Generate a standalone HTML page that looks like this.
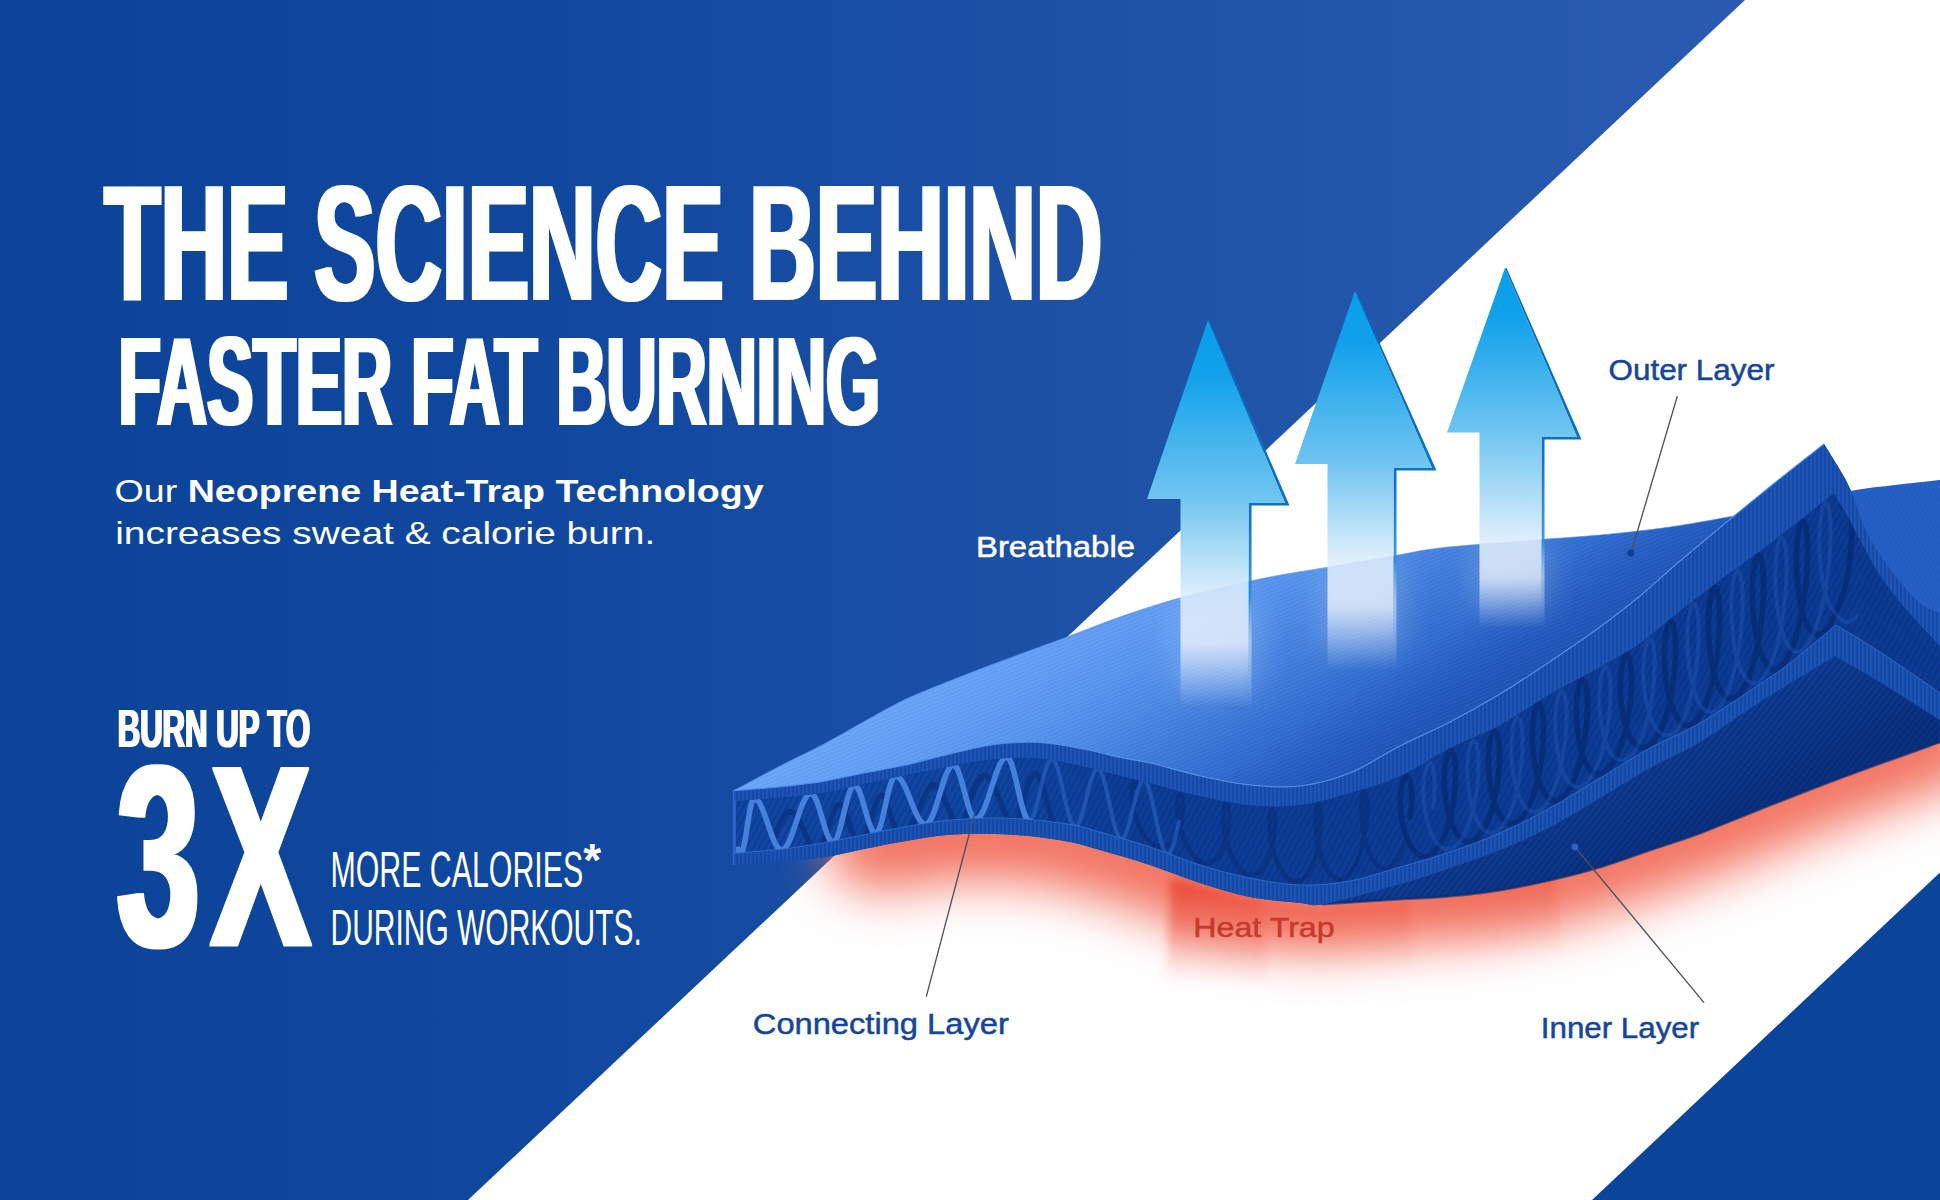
<!DOCTYPE html>
<html lang="en"><head><meta charset="utf-8"><title>The Science Behind Faster Fat Burning</title>
<style>
html,body{margin:0;padding:0;background:#0d469c;}
body{width:1940px;height:1200px;overflow:hidden;position:relative;font-family:"Liberation Sans",sans-serif;}
svg{position:absolute;left:0;top:0;display:block}
svg text{font-family:"Liberation Sans",sans-serif;}
</style></head><body>

<svg width="1940" height="1200" viewBox="0 0 1940 1200">
<defs>
<linearGradient id="bg" x1="0" y1="0" x2="1940" y2="0" gradientUnits="userSpaceOnUse">
<stop offset="0" stop-color="#0a4398"/><stop offset="0.28" stop-color="#10489f"/><stop offset="0.6" stop-color="#1f53a8"/><stop offset="0.9" stop-color="#295cb0"/></linearGradient>
<linearGradient id="top" x1="740" y1="790" x2="908" y2="1061" gradientUnits="userSpaceOnUse">
<stop offset="0" stop-color="#69a5f8"/><stop offset="0.19" stop-color="#5f9cf3"/><stop offset="0.30" stop-color="#5895ef"/><stop offset="0.39" stop-color="#4f8ee9"/><stop offset="0.46" stop-color="#4a87e5"/><stop offset="0.62" stop-color="#3b78d8"/><stop offset="0.75" stop-color="#2f6bce"/><stop offset="0.83" stop-color="#2860c4"/><stop offset="0.91" stop-color="#2058bb"/><stop offset="1" stop-color="#1d53b6"/></linearGradient>
<linearGradient id="topshade" x1="1250" y1="640" x2="1330" y2="800" gradientUnits="userSpaceOnUse">
<stop offset="0" stop-color="#1d55b8" stop-opacity="0"/><stop offset="1" stop-color="#1d55b8" stop-opacity="0.25"/></linearGradient>
<linearGradient id="arrow" x1="0" y1="0" x2="0" y2="1">
<stop offset="0" stop-color="#0a9ee9"/><stop offset="0.15" stop-color="#12a2ea"/><stop offset="0.42" stop-color="#6cc3f0"/><stop offset="0.58" stop-color="#b4dff7"/><stop offset="0.68" stop-color="#e6f4fd" stop-opacity="0.95"/><stop offset="0.8" stop-color="#ffffff" stop-opacity="0.55"/><stop offset="0.92" stop-color="#ffffff" stop-opacity="0.18"/><stop offset="1" stop-color="#ffffff" stop-opacity="0"/></linearGradient>
<linearGradient id="arrowe" x1="0" y1="0" x2="0" y2="1">
<stop offset="0" stop-color="#0765b8"/><stop offset="0.5" stop-color="#0b74c9"/><stop offset="0.7" stop-color="#2b8fdd" stop-opacity="0.9"/><stop offset="0.85" stop-color="#6db4f0" stop-opacity="0.4"/><stop offset="1" stop-color="#ffffff" stop-opacity="0"/></linearGradient>
<linearGradient id="beam" x1="0" y1="0" x2="0" y2="1">
<stop offset="0" stop-color="#e9432e" stop-opacity="0.95"/><stop offset="0.45" stop-color="#ee6a58" stop-opacity="0.7"/><stop offset="1" stop-color="#f7b0a6" stop-opacity="0"/></linearGradient>
<linearGradient id="cdark" x1="980" y1="0" x2="1700" y2="0" gradientUnits="userSpaceOnUse"><stop offset="0" stop-color="#0b3a93" stop-opacity="0"/><stop offset="0.22" stop-color="#0b3a93" stop-opacity="0.7"/><stop offset="1" stop-color="#0b3a93" stop-opacity="0.9"/></linearGradient>
<linearGradient id="under" x1="1500" y1="780" x2="1560" y2="900" gradientUnits="userSpaceOnUse">
<stop offset="0" stop-color="#1044a0"/><stop offset="1" stop-color="#0a3282"/></linearGradient>
<pattern id="hv" width="4" height="4" patternUnits="userSpaceOnUse"><rect width="2" height="4" fill="#06266b" opacity="0.22"/></pattern>
<pattern id="hd" width="5.5" height="5.5" patternUnits="userSpaceOnUse" patternTransform="rotate(28)"><rect width="2.6" height="5.5" fill="#051f5e" opacity="0.20"/></pattern>
<pattern id="hd2" width="5" height="5" patternUnits="userSpaceOnUse" patternTransform="rotate(38)"><rect width="2.4" height="5" fill="#04205f" opacity="0.34"/></pattern>
<pattern id="ht2" width="4.2" height="4.2" patternUnits="userSpaceOnUse" patternTransform="rotate(-62)"><rect width="4.2" height="1.6" fill="#0a3a9a" opacity="0.13"/></pattern>
<pattern id="ht" width="3.6" height="3.6" patternUnits="userSpaceOnUse" patternTransform="rotate(-22)"><rect width="3.6" height="1.3" fill="#ffffff" opacity="0.045"/><rect y="1.8" width="3.6" height="1.2" fill="#0a3a9a" opacity="0.05"/></pattern>
<filter id="blur" x="-10%" y="-60%" width="120%" height="220%"><feGaussianBlur stdDeviation="26"/></filter>
<filter id="blur2g" x="-50%" y="-50%" width="200%" height="200%"><feGaussianBlur stdDeviation="14"/></filter>
<filter id="blur2" x="-20%" y="-20%" width="140%" height="140%"><feGaussianBlur stdDeviation="5"/></filter>
<filter id="fat1" x="-2%" y="-5%" width="104%" height="110%"><feMorphology operator="dilate" radius="3 0"/></filter>
<filter id="fat2" x="-2%" y="-5%" width="104%" height="110%"><feMorphology operator="dilate" radius="7 1.5"/></filter>
<filter id="fat3" x="-2%" y="-5%" width="104%" height="110%"><feMorphology operator="dilate" radius="1.6 0.3"/></filter>
</defs>
<rect width="1940" height="1200" fill="url(#bg)"/>
<path d="M1745 0 L1940 0 L1940 1200 L468 1200 Z" fill="#fff"/>
<path d="M1592 1200 L1940 872.5 L1940 1200 Z" fill="#0b459b"/>
<g fill="none" stroke-linecap="round" stroke-linejoin="round">
<path d="M872.0 846.0 C877.7 845.5 893.5 844.5 906.0 843.0 C918.5 841.5 933.3 838.2 947.0 837.0 C960.7 835.8 974.3 835.6 988.0 835.8 C1001.7 836.0 1015.3 836.6 1029.0 838.0 C1042.7 839.4 1058.2 841.7 1070.0 844.0 C1081.8 846.3 1086.7 848.2 1100.0 852.0 C1113.3 855.8 1133.3 861.5 1150.0 867.0 C1166.7 872.5 1183.3 879.7 1200.0 885.0 C1216.7 890.3 1233.3 895.7 1250.0 899.0 C1266.7 902.3 1287.5 903.8 1300.0 905.0 C1312.5 906.2 1308.3 907.0 1325.0 906.0 C1341.7 905.0 1379.2 900.7 1400.0 899.0 C1420.8 897.3 1433.3 897.5 1450.0 896.0 C1466.7 894.5 1483.3 892.7 1500.0 890.0 C1516.7 887.3 1533.3 883.8 1550.0 880.0 C1566.7 876.2 1583.3 872.0 1600.0 867.0 C1616.7 862.0 1633.3 855.7 1650.0 850.0 C1666.7 844.3 1681.7 839.8 1700.0 833.0 C1718.3 826.2 1736.7 818.2 1760.0 809.0 C1783.3 799.8 1810.0 789.2 1840.0 778.0 C1870.0 766.8 1923.3 748.0 1940.0 742.0" stroke="#f26f5d" stroke-width="88" filter="url(#blur)"/>
</g>
<g filter="url(#blur2)">
<path d="M1171 878 L1263 900 L1268 985 L1166 985 Z" fill="url(#beam)"/>
<path d="M1263 900 L1313 907 L1410 900 L1414 968 L1267 972 Z" fill="url(#beam)" opacity="0.42"/>
<path d="M1410 900 L1556 876 L1560 950 L1414 962 Z" fill="url(#beam)" opacity="0.34"/>
</g>
<path d="M733.4 790.7 C741.5 790.0 767.1 788.2 782.0 786.6 C796.9 785.0 809.3 783.7 823.0 781.4 C836.7 779.1 850.2 775.7 864.0 773.0 C877.8 770.3 892.2 768.1 906.0 765.0 C919.8 761.9 933.3 757.9 947.0 754.6 C960.7 751.3 976.0 747.5 988.0 745.4 C1000.0 743.3 1008.7 742.6 1019.0 742.3 C1029.3 741.9 1038.0 741.9 1050.0 743.3 C1062.0 744.7 1079.3 748.1 1091.0 750.5 C1102.7 752.9 1110.2 755.4 1120.0 757.5 C1129.8 759.6 1136.7 759.9 1150.0 763.0 C1163.3 766.1 1183.3 772.3 1200.0 776.0 C1216.7 779.7 1233.3 783.3 1250.0 785.0 C1266.7 786.7 1283.3 788.0 1300.0 786.0 C1316.7 784.0 1333.3 779.7 1350.0 773.0 C1366.7 766.3 1383.3 754.5 1400.0 746.0 C1416.7 737.5 1433.3 730.7 1450.0 722.0 C1466.7 713.3 1484.2 703.5 1500.0 694.0 C1515.8 684.5 1528.3 676.2 1545.0 665.0 C1561.7 653.8 1584.2 638.5 1600.0 627.0 C1615.8 615.5 1626.7 607.0 1640.0 596.0 C1653.3 585.0 1664.3 574.3 1680.0 561.0 C1695.7 547.7 1717.8 529.3 1734.0 516.0 C1750.2 502.7 1762.0 493.0 1777.0 481.0 C1792.0 469.0 1816.2 450.2 1824.0 444.0 C1826.7 448.3 1835.5 462.2 1840.0 470.0 C1844.5 477.8 1846.5 480.5 1851.0 491.0 C1855.5 501.5 1860.0 519.3 1867.0 533.0 C1874.0 546.7 1884.2 561.3 1893.0 573.0 C1901.8 584.7 1912.2 596.3 1920.0 603.0 C1927.8 609.7 1936.7 611.3 1940.0 613.0 L1940 742 C1923.3 748.0 1870.0 766.8 1840.0 778.0 C1810.0 789.2 1783.3 799.8 1760.0 809.0 C1736.7 818.2 1718.3 826.2 1700.0 833.0 C1681.7 839.8 1666.7 844.3 1650.0 850.0 C1633.3 855.7 1616.7 862.0 1600.0 867.0 C1583.3 872.0 1566.7 876.2 1550.0 880.0 C1533.3 883.8 1516.7 887.3 1500.0 890.0 C1483.3 892.7 1466.7 894.5 1450.0 896.0 C1433.3 897.5 1421.3 897.7 1400.0 899.0 C1378.7 900.3 1335.0 903.2 1322.0 904.0 C1320.8 903.8 1312.5 904.2 1300.0 903.0 C1287.5 901.8 1266.7 900.3 1250.0 897.0 C1233.3 893.7 1216.7 888.3 1200.0 883.0 C1183.3 877.7 1166.7 870.5 1150.0 865.0 C1133.3 859.5 1113.3 853.8 1100.0 850.0 C1086.7 846.2 1081.8 844.3 1070.0 842.0 C1058.2 839.7 1042.7 837.4 1029.0 836.0 C1015.3 834.6 1001.7 834.0 988.0 833.8 C974.3 833.6 960.7 833.8 947.0 835.0 C933.3 836.2 919.8 838.7 906.0 841.0 C892.2 843.3 877.8 846.2 864.0 849.0 C850.2 851.8 836.7 855.4 823.0 857.5 C809.3 859.6 796.9 860.4 782.0 861.6 C767.1 862.8 741.5 864.2 733.4 864.7 Z" fill="#1a50b0"/>
<path d="M1734.0 517.0 C1745.0 514.5 1779.7 506.5 1800.0 502.0 C1820.3 497.5 1832.7 493.7 1856.0 490.0 C1879.3 486.3 1926.0 481.7 1940.0 480.0 L1940 640 L1800 640 L1792 484 Z" fill="#2760c4"/><path d="M1734.0 517.0 C1745.0 514.5 1779.7 506.5 1800.0 502.0 C1820.3 497.5 1832.7 493.7 1856.0 490.0 C1879.3 486.3 1926.0 481.7 1940.0 480.0 L1940 640 L1800 640 L1792 484 Z" fill="url(#ht2)"/>
<path d="M733.4 790.7 C741.2 786.6 765.1 773.7 780.0 766.0 C794.9 758.3 808.8 752.0 823.0 744.5 C837.2 737.0 851.2 728.6 865.0 721.0 C878.8 713.4 892.3 705.5 906.0 699.0 C919.7 692.5 933.3 687.5 947.0 682.0 C960.7 676.5 974.2 671.2 988.0 666.0 C1001.8 660.8 1016.8 655.3 1030.0 650.5 C1043.2 645.7 1052.0 642.6 1067.0 637.0 C1082.0 631.4 1101.2 623.5 1120.0 617.0 C1138.8 610.5 1156.7 604.3 1180.0 598.0 C1203.3 591.7 1235.2 584.2 1260.0 579.0 C1284.8 573.8 1306.8 570.8 1329.0 567.0 C1351.2 563.2 1374.5 559.2 1393.0 556.0 C1411.5 552.8 1418.8 550.5 1440.0 548.0 C1461.2 545.5 1493.3 543.2 1520.0 541.0 C1546.7 538.8 1575.0 537.3 1600.0 535.0 C1625.0 532.7 1647.7 530.2 1670.0 527.0 C1692.3 523.8 1723.3 517.8 1734.0 516.0 C1725.0 523.5 1695.7 547.7 1680.0 561.0 C1664.3 574.3 1653.3 585.0 1640.0 596.0 C1626.7 607.0 1615.8 615.5 1600.0 627.0 C1584.2 638.5 1561.7 653.8 1545.0 665.0 C1528.3 676.2 1515.8 684.5 1500.0 694.0 C1484.2 703.5 1466.7 713.3 1450.0 722.0 C1433.3 730.7 1416.7 737.5 1400.0 746.0 C1383.3 754.5 1366.7 766.3 1350.0 773.0 C1333.3 779.7 1316.7 784.0 1300.0 786.0 C1283.3 788.0 1266.7 786.7 1250.0 785.0 C1233.3 783.3 1216.7 779.7 1200.0 776.0 C1183.3 772.3 1163.3 766.1 1150.0 763.0 C1136.7 759.9 1129.8 759.6 1120.0 757.5 C1110.2 755.4 1102.7 752.9 1091.0 750.5 C1079.3 748.1 1062.0 744.7 1050.0 743.3 C1038.0 741.9 1029.3 741.9 1019.0 742.3 C1008.7 742.6 1000.0 743.3 988.0 745.4 C976.0 747.5 960.7 751.3 947.0 754.6 C933.3 757.9 919.8 761.9 906.0 765.0 C892.2 768.1 877.8 770.3 864.0 773.0 C850.2 775.7 836.7 779.1 823.0 781.4 C809.3 783.7 796.9 785.0 782.0 786.6 C767.1 788.2 741.5 790.0 733.4 790.7 Z" fill="url(#top)" stroke="#4f8de8" stroke-width="0.6"/><path d="M733.4 790.7 C741.2 786.6 765.1 773.7 780.0 766.0 C794.9 758.3 808.8 752.0 823.0 744.5 C837.2 737.0 851.2 728.6 865.0 721.0 C878.8 713.4 892.3 705.5 906.0 699.0 C919.7 692.5 933.3 687.5 947.0 682.0 C960.7 676.5 974.2 671.2 988.0 666.0 C1001.8 660.8 1016.8 655.3 1030.0 650.5 C1043.2 645.7 1052.0 642.6 1067.0 637.0 C1082.0 631.4 1101.2 623.5 1120.0 617.0 C1138.8 610.5 1156.7 604.3 1180.0 598.0 C1203.3 591.7 1235.2 584.2 1260.0 579.0 C1284.8 573.8 1306.8 570.8 1329.0 567.0 C1351.2 563.2 1374.5 559.2 1393.0 556.0 C1411.5 552.8 1418.8 550.5 1440.0 548.0 C1461.2 545.5 1493.3 543.2 1520.0 541.0 C1546.7 538.8 1575.0 537.3 1600.0 535.0 C1625.0 532.7 1647.7 530.2 1670.0 527.0 C1692.3 523.8 1723.3 517.8 1734.0 516.0 C1725.0 523.5 1695.7 547.7 1680.0 561.0 C1664.3 574.3 1653.3 585.0 1640.0 596.0 C1626.7 607.0 1615.8 615.5 1600.0 627.0 C1584.2 638.5 1561.7 653.8 1545.0 665.0 C1528.3 676.2 1515.8 684.5 1500.0 694.0 C1484.2 703.5 1466.7 713.3 1450.0 722.0 C1433.3 730.7 1416.7 737.5 1400.0 746.0 C1383.3 754.5 1366.7 766.3 1350.0 773.0 C1333.3 779.7 1316.7 784.0 1300.0 786.0 C1283.3 788.0 1266.7 786.7 1250.0 785.0 C1233.3 783.3 1216.7 779.7 1200.0 776.0 C1183.3 772.3 1163.3 766.1 1150.0 763.0 C1136.7 759.9 1129.8 759.6 1120.0 757.5 C1110.2 755.4 1102.7 752.9 1091.0 750.5 C1079.3 748.1 1062.0 744.7 1050.0 743.3 C1038.0 741.9 1029.3 741.9 1019.0 742.3 C1008.7 742.6 1000.0 743.3 988.0 745.4 C976.0 747.5 960.7 751.3 947.0 754.6 C933.3 757.9 919.8 761.9 906.0 765.0 C892.2 768.1 877.8 770.3 864.0 773.0 C850.2 775.7 836.7 779.1 823.0 781.4 C809.3 783.7 796.9 785.0 782.0 786.6 C767.1 788.2 741.5 790.0 733.4 790.7 Z" fill="url(#ht)"/>
<clipPath id="cc"><path d="M733.4 801.0 C741.5 800.4 767.1 798.6 782.0 797.2 C796.9 795.8 809.3 795.0 823.0 792.8 C836.7 790.6 850.2 787.0 864.0 784.0 C877.8 781.0 892.2 777.8 906.0 775.0 C919.8 772.2 933.3 769.5 947.0 767.0 C960.7 764.5 976.0 761.3 988.0 759.8 C1000.0 758.2 1008.7 757.8 1019.0 757.7 C1029.3 757.7 1038.0 757.8 1050.0 759.5 C1062.0 761.2 1079.3 765.3 1091.0 768.0 C1102.7 770.7 1110.2 773.0 1120.0 775.5 C1129.8 778.0 1136.7 779.6 1150.0 783.0 C1163.3 786.4 1183.3 792.3 1200.0 796.0 C1216.7 799.7 1233.3 803.5 1250.0 805.0 C1266.7 806.5 1283.3 807.0 1300.0 805.0 C1316.7 803.0 1333.3 797.8 1350.0 793.0 C1366.7 788.2 1383.3 783.5 1400.0 776.0 C1416.7 768.5 1433.3 756.5 1450.0 748.0 C1466.7 739.5 1483.3 734.0 1500.0 725.0 C1516.7 716.0 1533.3 703.7 1550.0 694.0 C1566.7 684.3 1585.0 675.5 1600.0 667.0 C1615.0 658.5 1626.7 652.3 1640.0 643.0 C1653.3 633.7 1666.7 621.5 1680.0 611.0 C1693.3 600.5 1706.7 590.0 1720.0 580.0 C1733.3 570.0 1746.7 561.0 1760.0 551.0 C1773.3 541.0 1787.7 529.7 1800.0 520.0 C1812.3 510.3 1828.3 497.5 1834.0 493.0 C1836.2 496.7 1842.8 507.5 1847.0 515.0 C1851.2 522.5 1853.5 528.0 1859.0 538.0 C1864.5 548.0 1872.3 563.3 1880.0 575.0 C1887.7 586.7 1895.0 596.2 1905.0 608.0 C1915.0 619.8 1934.2 639.7 1940.0 646.0 L1940 693 C1930.0 686.2 1897.3 663.3 1880.0 652.0 C1862.7 640.7 1843.3 629.5 1836.0 625.0 C1828.3 631.3 1802.7 653.2 1790.0 663.0 C1777.3 672.8 1775.0 674.0 1760.0 684.0 C1745.0 694.0 1718.3 712.3 1700.0 723.0 C1681.7 733.7 1666.7 738.8 1650.0 748.0 C1633.3 757.2 1616.7 768.0 1600.0 778.0 C1583.3 788.0 1566.7 798.8 1550.0 808.0 C1533.3 817.2 1516.7 825.7 1500.0 833.0 C1483.3 840.3 1466.7 846.3 1450.0 852.0 C1433.3 857.7 1416.7 862.2 1400.0 867.0 C1383.3 871.8 1366.7 878.0 1350.0 881.0 C1333.3 884.0 1316.7 885.5 1300.0 885.0 C1283.3 884.5 1266.7 881.3 1250.0 878.0 C1233.3 874.7 1216.7 870.2 1200.0 865.0 C1183.3 859.8 1166.7 852.5 1150.0 847.0 C1133.3 841.5 1113.3 835.8 1100.0 832.0 C1086.7 828.2 1081.8 826.6 1070.0 824.5 C1058.2 822.4 1042.7 820.5 1029.0 819.4 C1015.3 818.3 1001.7 817.8 988.0 818.0 C974.3 818.2 960.7 819.0 947.0 820.4 C933.3 821.8 919.8 824.2 906.0 826.6 C892.2 829.0 877.8 832.1 864.0 834.8 C850.2 837.5 836.7 840.6 823.0 843.0 C809.3 845.4 796.9 847.3 782.0 849.0 C767.1 850.7 741.5 852.7 733.4 853.4 Z"/></clipPath>
<path d="M733.4 801.0 C741.5 800.4 767.1 798.6 782.0 797.2 C796.9 795.8 809.3 795.0 823.0 792.8 C836.7 790.6 850.2 787.0 864.0 784.0 C877.8 781.0 892.2 777.8 906.0 775.0 C919.8 772.2 933.3 769.5 947.0 767.0 C960.7 764.5 976.0 761.3 988.0 759.8 C1000.0 758.2 1008.7 757.8 1019.0 757.7 C1029.3 757.7 1038.0 757.8 1050.0 759.5 C1062.0 761.2 1079.3 765.3 1091.0 768.0 C1102.7 770.7 1110.2 773.0 1120.0 775.5 C1129.8 778.0 1136.7 779.6 1150.0 783.0 C1163.3 786.4 1183.3 792.3 1200.0 796.0 C1216.7 799.7 1233.3 803.5 1250.0 805.0 C1266.7 806.5 1283.3 807.0 1300.0 805.0 C1316.7 803.0 1333.3 797.8 1350.0 793.0 C1366.7 788.2 1383.3 783.5 1400.0 776.0 C1416.7 768.5 1433.3 756.5 1450.0 748.0 C1466.7 739.5 1483.3 734.0 1500.0 725.0 C1516.7 716.0 1533.3 703.7 1550.0 694.0 C1566.7 684.3 1585.0 675.5 1600.0 667.0 C1615.0 658.5 1626.7 652.3 1640.0 643.0 C1653.3 633.7 1666.7 621.5 1680.0 611.0 C1693.3 600.5 1706.7 590.0 1720.0 580.0 C1733.3 570.0 1746.7 561.0 1760.0 551.0 C1773.3 541.0 1787.7 529.7 1800.0 520.0 C1812.3 510.3 1828.3 497.5 1834.0 493.0 C1836.2 496.7 1842.8 507.5 1847.0 515.0 C1851.2 522.5 1853.5 528.0 1859.0 538.0 C1864.5 548.0 1872.3 563.3 1880.0 575.0 C1887.7 586.7 1895.0 596.2 1905.0 608.0 C1915.0 619.8 1934.2 639.7 1940.0 646.0 L1940 693 C1930.0 686.2 1897.3 663.3 1880.0 652.0 C1862.7 640.7 1843.3 629.5 1836.0 625.0 C1828.3 631.3 1802.7 653.2 1790.0 663.0 C1777.3 672.8 1775.0 674.0 1760.0 684.0 C1745.0 694.0 1718.3 712.3 1700.0 723.0 C1681.7 733.7 1666.7 738.8 1650.0 748.0 C1633.3 757.2 1616.7 768.0 1600.0 778.0 C1583.3 788.0 1566.7 798.8 1550.0 808.0 C1533.3 817.2 1516.7 825.7 1500.0 833.0 C1483.3 840.3 1466.7 846.3 1450.0 852.0 C1433.3 857.7 1416.7 862.2 1400.0 867.0 C1383.3 871.8 1366.7 878.0 1350.0 881.0 C1333.3 884.0 1316.7 885.5 1300.0 885.0 C1283.3 884.5 1266.7 881.3 1250.0 878.0 C1233.3 874.7 1216.7 870.2 1200.0 865.0 C1183.3 859.8 1166.7 852.5 1150.0 847.0 C1133.3 841.5 1113.3 835.8 1100.0 832.0 C1086.7 828.2 1081.8 826.6 1070.0 824.5 C1058.2 822.4 1042.7 820.5 1029.0 819.4 C1015.3 818.3 1001.7 817.8 988.0 818.0 C974.3 818.2 960.7 819.0 947.0 820.4 C933.3 821.8 919.8 824.2 906.0 826.6 C892.2 829.0 877.8 832.1 864.0 834.8 C850.2 837.5 836.7 840.6 823.0 843.0 C809.3 845.4 796.9 847.3 782.0 849.0 C767.1 850.7 741.5 852.7 733.4 853.4 Z" fill="#1046a4" stroke="#1046a4" stroke-width="1"/><path d="M733.4 801.0 C741.5 800.4 767.1 798.6 782.0 797.2 C796.9 795.8 809.3 795.0 823.0 792.8 C836.7 790.6 850.2 787.0 864.0 784.0 C877.8 781.0 892.2 777.8 906.0 775.0 C919.8 772.2 933.3 769.5 947.0 767.0 C960.7 764.5 976.0 761.3 988.0 759.8 C1000.0 758.2 1008.7 757.8 1019.0 757.7 C1029.3 757.7 1038.0 757.8 1050.0 759.5 C1062.0 761.2 1079.3 765.3 1091.0 768.0 C1102.7 770.7 1110.2 773.0 1120.0 775.5 C1129.8 778.0 1136.7 779.6 1150.0 783.0 C1163.3 786.4 1183.3 792.3 1200.0 796.0 C1216.7 799.7 1233.3 803.5 1250.0 805.0 C1266.7 806.5 1283.3 807.0 1300.0 805.0 C1316.7 803.0 1333.3 797.8 1350.0 793.0 C1366.7 788.2 1383.3 783.5 1400.0 776.0 C1416.7 768.5 1433.3 756.5 1450.0 748.0 C1466.7 739.5 1483.3 734.0 1500.0 725.0 C1516.7 716.0 1533.3 703.7 1550.0 694.0 C1566.7 684.3 1585.0 675.5 1600.0 667.0 C1615.0 658.5 1626.7 652.3 1640.0 643.0 C1653.3 633.7 1666.7 621.5 1680.0 611.0 C1693.3 600.5 1706.7 590.0 1720.0 580.0 C1733.3 570.0 1746.7 561.0 1760.0 551.0 C1773.3 541.0 1787.7 529.7 1800.0 520.0 C1812.3 510.3 1828.3 497.5 1834.0 493.0 C1836.2 496.7 1842.8 507.5 1847.0 515.0 C1851.2 522.5 1853.5 528.0 1859.0 538.0 C1864.5 548.0 1872.3 563.3 1880.0 575.0 C1887.7 586.7 1895.0 596.2 1905.0 608.0 C1915.0 619.8 1934.2 639.7 1940.0 646.0 L1940 693 C1930.0 686.2 1897.3 663.3 1880.0 652.0 C1862.7 640.7 1843.3 629.5 1836.0 625.0 C1828.3 631.3 1802.7 653.2 1790.0 663.0 C1777.3 672.8 1775.0 674.0 1760.0 684.0 C1745.0 694.0 1718.3 712.3 1700.0 723.0 C1681.7 733.7 1666.7 738.8 1650.0 748.0 C1633.3 757.2 1616.7 768.0 1600.0 778.0 C1583.3 788.0 1566.7 798.8 1550.0 808.0 C1533.3 817.2 1516.7 825.7 1500.0 833.0 C1483.3 840.3 1466.7 846.3 1450.0 852.0 C1433.3 857.7 1416.7 862.2 1400.0 867.0 C1383.3 871.8 1366.7 878.0 1350.0 881.0 C1333.3 884.0 1316.7 885.5 1300.0 885.0 C1283.3 884.5 1266.7 881.3 1250.0 878.0 C1233.3 874.7 1216.7 870.2 1200.0 865.0 C1183.3 859.8 1166.7 852.5 1150.0 847.0 C1133.3 841.5 1113.3 835.8 1100.0 832.0 C1086.7 828.2 1081.8 826.6 1070.0 824.5 C1058.2 822.4 1042.7 820.5 1029.0 819.4 C1015.3 818.3 1001.7 817.8 988.0 818.0 C974.3 818.2 960.7 819.0 947.0 820.4 C933.3 821.8 919.8 824.2 906.0 826.6 C892.2 829.0 877.8 832.1 864.0 834.8 C850.2 837.5 836.7 840.6 823.0 843.0 C809.3 845.4 796.9 847.3 782.0 849.0 C767.1 850.7 741.5 852.7 733.4 853.4 Z" fill="url(#cdark)"/><path d="M733.4 801.0 C741.5 800.4 767.1 798.6 782.0 797.2 C796.9 795.8 809.3 795.0 823.0 792.8 C836.7 790.6 850.2 787.0 864.0 784.0 C877.8 781.0 892.2 777.8 906.0 775.0 C919.8 772.2 933.3 769.5 947.0 767.0 C960.7 764.5 976.0 761.3 988.0 759.8 C1000.0 758.2 1008.7 757.8 1019.0 757.7 C1029.3 757.7 1038.0 757.8 1050.0 759.5 C1062.0 761.2 1079.3 765.3 1091.0 768.0 C1102.7 770.7 1110.2 773.0 1120.0 775.5 C1129.8 778.0 1136.7 779.6 1150.0 783.0 C1163.3 786.4 1183.3 792.3 1200.0 796.0 C1216.7 799.7 1233.3 803.5 1250.0 805.0 C1266.7 806.5 1283.3 807.0 1300.0 805.0 C1316.7 803.0 1333.3 797.8 1350.0 793.0 C1366.7 788.2 1383.3 783.5 1400.0 776.0 C1416.7 768.5 1433.3 756.5 1450.0 748.0 C1466.7 739.5 1483.3 734.0 1500.0 725.0 C1516.7 716.0 1533.3 703.7 1550.0 694.0 C1566.7 684.3 1585.0 675.5 1600.0 667.0 C1615.0 658.5 1626.7 652.3 1640.0 643.0 C1653.3 633.7 1666.7 621.5 1680.0 611.0 C1693.3 600.5 1706.7 590.0 1720.0 580.0 C1733.3 570.0 1746.7 561.0 1760.0 551.0 C1773.3 541.0 1787.7 529.7 1800.0 520.0 C1812.3 510.3 1828.3 497.5 1834.0 493.0 C1836.2 496.7 1842.8 507.5 1847.0 515.0 C1851.2 522.5 1853.5 528.0 1859.0 538.0 C1864.5 548.0 1872.3 563.3 1880.0 575.0 C1887.7 586.7 1895.0 596.2 1905.0 608.0 C1915.0 619.8 1934.2 639.7 1940.0 646.0 L1940 693 C1930.0 686.2 1897.3 663.3 1880.0 652.0 C1862.7 640.7 1843.3 629.5 1836.0 625.0 C1828.3 631.3 1802.7 653.2 1790.0 663.0 C1777.3 672.8 1775.0 674.0 1760.0 684.0 C1745.0 694.0 1718.3 712.3 1700.0 723.0 C1681.7 733.7 1666.7 738.8 1650.0 748.0 C1633.3 757.2 1616.7 768.0 1600.0 778.0 C1583.3 788.0 1566.7 798.8 1550.0 808.0 C1533.3 817.2 1516.7 825.7 1500.0 833.0 C1483.3 840.3 1466.7 846.3 1450.0 852.0 C1433.3 857.7 1416.7 862.2 1400.0 867.0 C1383.3 871.8 1366.7 878.0 1350.0 881.0 C1333.3 884.0 1316.7 885.5 1300.0 885.0 C1283.3 884.5 1266.7 881.3 1250.0 878.0 C1233.3 874.7 1216.7 870.2 1200.0 865.0 C1183.3 859.8 1166.7 852.5 1150.0 847.0 C1133.3 841.5 1113.3 835.8 1100.0 832.0 C1086.7 828.2 1081.8 826.6 1070.0 824.5 C1058.2 822.4 1042.7 820.5 1029.0 819.4 C1015.3 818.3 1001.7 817.8 988.0 818.0 C974.3 818.2 960.7 819.0 947.0 820.4 C933.3 821.8 919.8 824.2 906.0 826.6 C892.2 829.0 877.8 832.1 864.0 834.8 C850.2 837.5 836.7 840.6 823.0 843.0 C809.3 845.4 796.9 847.3 782.0 849.0 C767.1 850.7 741.5 852.7 733.4 853.4 Z" fill="url(#hd)"/>
<g clip-path="url(#cc)" fill="none" stroke-linecap="round" stroke-linejoin="round">
<path d="M775.0 836.0 L776.5 832.2 L778.0 828.4 L779.5 824.8 L781.0 821.5 L782.5 818.6 L784.0 816.1 L785.5 814.1 L787.0 812.7 L788.5 811.8 L790.0 811.5 L791.5 811.8 L793.0 812.6 L794.5 814.0 L796.0 815.9 L797.5 818.3 L799.0 821.0 L800.5 823.9 L802.0 827.1 L803.5 830.4 L805.0 833.8 L806.5 837.0 L808.0 840.1 L809.5 842.9 L811.0 845.5 L812.5 848.1 L814.0 850.0 L815.5 850.9 L817.0 851.0 L818.5 850.2 L820.0 848.5 L821.5 845.9 L823.0 842.7 L824.5 838.8 L826.0 834.5 L827.5 829.9 L829.0 825.3 L830.5 820.8 L832.0 816.5 L833.5 812.7 L835.0 809.2 L836.5 806.6 L838.0 805.1 L839.5 804.7 L841.0 805.3 L842.5 807.0 L844.0 809.6 L845.5 813.0 L847.0 817.0 L848.5 821.4 L850.0 825.9 L851.5 830.3 L853.0 834.4 L854.5 837.7 L856.0 840.2 L857.5 841.9 L859.0 842.6 L860.5 842.4 L862.0 841.2 L863.5 839.1 L865.0 836.2 L866.5 832.5 L868.0 828.2 L869.5 823.5 L871.0 818.6 L872.5 813.7 L874.0 809.1 L875.5 804.9 L877.0 800.9 L878.5 797.8 L880.0 795.9 L881.5 795.3 L883.0 795.9 L884.5 797.9 L886.0 801.0 L887.5 804.9 L889.0 809.6 L890.5 814.6 L892.0 819.6 L893.5 824.3 L895.0 828.4 L896.5 830.4 L898.0 832.0 L899.5 833.2 L901.0 833.9 L902.5 834.1 L904.0 833.9 L905.5 833.2 L907.0 831.9 L908.5 830.2 L910.0 828.1 L911.5 825.5 L913.0 822.6 L914.5 819.5 L916.0 816.1 L917.5 812.5 L919.0 808.9 L920.5 805.3 L922.0 801.8 L923.5 798.4 L925.0 795.3 L926.5 792.3 L928.0 789.6 L929.5 787.4 L931.0 785.8 L932.5 784.8 L934.0 784.5 L935.5 784.9 L937.0 786.0 L938.5 787.7 L940.0 789.9 L941.5 792.7 L943.0 795.8 L944.5 799.3 L946.0 802.9 L947.5 806.7 L949.0 810.4 L950.5 813.9 L952.0 817.2 L953.5 820.2 L955.0 823.1 L956.5 825.0 L958.0 826.1 L959.5 826.2 L961.0 825.3 L962.5 823.5 L964.0 820.7 L965.5 817.1 L967.0 812.9 L968.5 808.1 L970.0 803.1 L971.5 797.9 L973.0 792.9 L974.5 788.2 L976.0 784.2 L977.5 781.5 L979.0 779.2 L980.5 777.4 L982.0 776.2 L983.5 775.5 L985.0 775.3 L986.5 775.8 L988.0 776.9 L989.5 778.5 L991.0 780.6 L992.5 783.2 L994.0 786.2 L995.5 789.5 L997.0 793.1 L998.5 796.9 L1000.0 800.8 L1001.5 804.6 L1003.0 808.4 L1004.5 811.9 L1006.0 815.2 L1007.5 818.8 L1009.0 822.0 L1010.5 824.2 L1012.0 825.3 L1013.5 825.2 L1015.0 824.0 L1016.5 821.7 L1018.0 818.4 L1019.5 814.3 L1021.0 809.4 L1022.5 804.1 L1024.0 798.6 L1025.5 793.1 L1027.0 787.9 L1028.5 783.1 L1030.0 779.2 L1031.5 776.1 L1033.0 774.1 L1034.5 773.1 L1036.0 773.2 L1037.5 774.5 L1039.0 776.9 L1040.5 780.3 L1042.0 784.5 L1043.5 789.4 L1045.0 794.8 L1046.5 800.5 L1048.0 806.2 L1049.5 811.7 L1051.0 816.7 L1052.5 821.2 L1054.0 824.8 L1055.5 827.5 L1057.0 829.1 L1058.5 829.6 L1060.0 829.1" stroke="#0a3382" stroke-width="5.5" opacity="0.85"/>
<path d="M1410.0 817.6 L1410.8 811.0 L1411.4 804.7 L1411.6 798.7 L1411.6 793.2 L1411.3 788.4 L1410.8 784.2 L1410.1 780.9 L1409.2 778.4 L1408.2 776.7 L1407.1 776.0 L1406.0 776.1 L1404.9 777.1 L1403.8 779.0 L1402.8 781.6 L1401.9 784.9 L1401.2 788.9 L1400.7 793.4 L1400.4 798.4 L1400.4 803.7 L1400.6 809.3 L1401.2 815.0 L1402.0 820.7 L1403.2 826.4 L1404.6 831.8 L1406.4 837.0 L1408.4 841.7 L1410.7 845.9 L1413.2 849.5 L1415.9 852.4 L1418.8 854.6 L1421.8 855.9 L1424.9 856.4 L1428.0 855.9 L1431.1 854.5 L1434.2 852.2 L1437.2 848.8 L1440.1 844.6 L1442.8 839.6 L1445.3 833.8 L1447.6 827.4 L1449.6 820.5 L1451.4 813.2 L1452.8 805.8 L1454.0 798.3 L1454.8 790.9 L1455.4 783.8 L1455.6 777.1 L1455.6 770.9 L1455.3 765.4 L1454.8 760.7 L1454.1 756.8 L1453.2 753.8 L1452.2 751.9 L1451.1 750.9 L1450.0 751.0 L1448.9 752.1 L1447.8 754.1 L1446.8 757.1 L1445.9 760.9 L1445.2 765.4 L1444.7 770.6 L1444.4 776.2 L1444.4 782.3 L1444.6 788.7 L1445.2 795.2 L1446.0 801.7 L1447.2 808.2 L1448.6 814.4 L1450.4 820.2 L1452.4 825.6 L1454.7 830.4 L1457.2 834.4 L1459.9 837.7 L1462.8 840.1 L1465.8 841.5 L1468.9 841.9 L1472.0 841.2 L1475.1 839.6 L1478.2 836.9 L1481.2 833.2 L1484.1 828.6 L1486.8 823.2 L1489.3 817.1 L1491.6 810.3 L1493.6 803.1 L1495.4 795.5 L1496.8 787.8 L1498.0 780.0 L1498.8 772.3 L1499.4 764.9 L1499.6 758.0 L1499.6 751.6 L1499.3 745.9 L1498.8 741.1 L1498.1 737.1 L1497.2 734.1 L1496.2 732.0 L1495.1 731.0 L1494.0 731.1 L1492.9 732.2 L1491.8 734.2 L1490.8 737.2 L1489.9 741.1 L1489.2 745.8 L1488.7 751.1 L1488.4 757.0 L1488.4 763.4 L1488.6 770.0 L1489.2 776.8 L1490.0 783.6 L1491.2 790.3 L1492.6 796.8 L1494.4 802.8 L1496.4 808.2 L1498.7 813.0 L1501.2 817.0 L1503.9 820.1 L1506.8 822.3 L1509.8 823.5 L1512.9 823.6 L1516.0 822.6 L1519.1 820.6 L1522.2 817.4 L1525.2 813.3 L1528.1 808.2 L1530.8 802.2 L1533.3 795.5 L1535.6 788.2 L1537.6 780.4 L1539.4 772.2 L1540.8 763.9 L1542.0 755.6 L1542.8 747.4 L1543.4 739.6 L1543.6 732.3 L1543.6 725.5 L1543.3 719.6 L1542.8 714.5 L1542.1 710.3 L1541.2 707.2 L1540.2 705.1 L1539.1 704.2 L1538.0 704.3 L1536.9 705.6 L1535.8 707.9 L1534.8 711.2 L1533.9 715.4 L1533.2 720.4 L1532.7 726.1 L1532.4 732.4 L1532.4 739.1 L1532.6 746.1 L1533.2 753.2 L1534.0 760.2 L1535.2 767.2 L1536.6 773.8 L1538.4 780.0 L1540.4 785.5 L1542.7 790.4 L1545.2 794.5 L1547.9 797.6 L1550.8 799.7 L1553.8 800.7 L1556.9 800.6 L1560.0 799.3 L1563.1 796.9 L1566.2 793.5 L1569.2 789.0 L1572.1 783.6 L1574.8 777.4 L1577.3 770.5 L1579.6 763.0 L1581.6 755.2 L1583.4 747.0 L1584.8 738.8 L1586.0 730.6 L1586.8 722.6 L1587.4 714.9 L1587.6 707.7 L1587.6 701.1 L1587.3 695.2 L1586.8 690.1 L1586.1 686.0 L1585.2 682.8 L1584.2 680.7 L1583.1 679.7 L1582.0 679.7 L1580.9 680.9 L1579.8 683.0 L1578.8 686.2 L1577.9 690.3 L1577.2 695.3 L1576.7 700.9 L1576.4 707.2 L1576.4 713.9 L1576.6 720.9 L1577.2 728.0 L1578.0 735.1 L1579.2 742.1 L1580.6 748.6 L1582.4 754.7 L1584.4 760.2 L1586.7 764.9 L1589.2 768.7 L1591.9 771.6 L1594.8 773.4 L1597.8 774.2 L1600.9 773.9 L1604.0 772.6 L1607.1 770.1 L1610.2 766.7 L1613.2 762.2 L1616.1 756.9 L1618.8 750.8 L1621.3 744.0 L1623.6 736.7 L1625.6 728.9 L1627.4 720.9 L1628.8 712.7 L1630.0 704.6 L1630.8 696.7 L1631.4 689.1 L1631.6 682.0 L1631.6 675.5 L1631.3 669.7 L1630.8 664.8 L1630.1 660.8 L1629.2 657.8 L1628.2 655.9 L1627.1 655.0 L1626.0 655.1 L1624.9 656.3 L1623.8 658.6 L1622.8 661.8 L1621.9 665.8 L1621.2 670.7 L1620.7 676.2 L1620.4 682.4 L1620.4 688.9 L1620.6 695.7 L1621.2 702.6 L1622.0 709.5 L1623.2 716.2 L1624.6 722.6 L1626.4 728.5 L1628.4 733.7 L1630.7 738.3 L1633.2 742.0 L1635.9 744.8 L1638.8 746.7 L1641.8 747.5 L1644.9 747.3 L1648.0 746.1 L1651.1 743.8 L1654.2 740.6 L1657.2 736.3 L1660.1 731.1 L1662.8 725.0 L1665.3 718.1 L1667.6 710.4 L1669.6 702.3 L1671.4 693.7 L1672.8 684.9 L1674.0 676.0 L1674.8 667.3 L1675.4 659.0 L1675.6 651.1 L1675.6 643.9 L1675.3 637.6 L1674.8 632.2 L1674.1 627.8 L1673.2 624.6 L1672.2 622.6 L1671.1 621.8 L1670.0 622.1 L1668.9 623.6 L1667.8 626.2 L1666.8 629.9 L1665.9 634.4 L1665.2 639.7 L1664.7 645.7 L1664.4 652.3 L1664.4 659.2 L1664.6 666.5 L1665.2 673.8 L1666.0 681.2 L1667.2 688.4 L1668.6 695.3 L1670.4 701.9 L1672.4 707.8 L1674.7 713.1 L1677.2 717.6 L1679.9 721.2 L1682.8 723.8 L1685.8 725.2 L1688.9 725.5 L1692.0 724.4 L1695.1 722.1 L1698.2 718.6 L1701.2 713.8 L1704.1 707.8 L1706.8 700.9 L1709.3 693.1 L1711.6 684.6 L1713.6 675.5 L1715.4 666.0 L1716.8 656.3 L1718.0 646.7 L1718.8 637.3 L1719.4 628.2 L1719.6 619.7 L1719.6 611.9 L1719.3 605.0 L1718.8 599.1 L1718.1 594.3 L1717.2 590.7 L1716.2 588.4 L1715.1 587.3 L1714.0 587.5 L1712.9 589.0 L1711.8 591.7 L1710.8 595.6 L1709.9 600.5 L1709.2 606.3 L1708.7 612.9 L1708.4 620.1 L1708.4 627.8 L1708.6 635.9 L1709.2 644.1 L1710.0 652.3 L1711.2 660.3 L1712.6 667.9 L1714.4 675.0 L1716.4 681.4 L1718.7 687.0 L1721.2 691.6 L1723.9 695.2 L1726.8 697.5 L1729.8 698.7 L1732.9 698.5 L1736.0 697.1 L1739.1 694.4 L1742.2 690.4 L1745.2 685.2 L1748.1 679.0 L1750.8 671.7 L1753.3 663.6 L1755.6 654.8 L1757.6 645.5 L1759.4 635.8 L1760.8 625.9 L1762.0 616.1 L1762.8 606.4 L1763.4 597.2 L1763.6 588.5 L1763.6 580.5 L1763.3 573.5 L1762.8 567.4 L1762.1 562.5 L1761.2 558.8 L1760.2 556.4 L1759.1 555.3 L1758.0 555.5 L1756.9 557.0 L1755.8 559.7 L1754.8 563.6 L1753.9 568.6 L1753.2 574.5 L1752.7 581.2 L1752.4 588.7 L1752.4 596.6 L1752.6 604.9 L1753.2 613.3 L1754.0 621.7 L1755.2 629.9 L1756.6 637.8 L1758.4 645.0 L1760.4 651.6 L1762.7 657.3 L1765.2 662.0 L1767.9 665.6 L1770.8 668.1 L1773.8 669.3 L1776.9 669.1 L1780.0 667.5 L1783.1 664.6 L1786.2 660.3 L1789.2 654.8 L1792.1 648.1 L1794.8 640.4 L1797.3 631.9 L1799.6 622.7 L1801.6 613.0 L1803.4 602.9 L1804.8 592.8 L1806.0 582.7 L1806.8 572.8 L1807.4 563.4 L1807.6 554.6 L1807.6 546.6 L1807.3 539.4 L1806.8 533.4 L1806.1 528.4 L1805.2 524.7 L1804.2 522.3 L1803.1 521.2 L1802.0 521.4 L1800.9 523.0 L1799.8 525.8 L1798.8 529.8 L1797.9 534.9 L1797.2 541.0 L1796.7 547.9 L1796.4 555.5 L1796.4 563.6 L1796.6 572.0 L1797.2 580.6 L1798.0 589.1 L1799.2 597.4 L1800.6 605.2 L1802.4 612.4 L1804.4 618.8 L1806.7 624.3 L1809.2 628.7 L1811.9 632.0 L1814.8 634.0 L1817.8 634.7 L1820.9 634.0 L1824.0 632.0 L1827.1 628.8 L1830.2 624.2 L1833.2 618.5 L1836.1 612.0 L1838.8 606.6 L1841.3 600.3 L1843.6 593.1 L1845.6 585.2 L1847.4 576.7 L1848.8 568.0 L1850.0 559.0 L1850.8 550.0 L1851.4 541.3 L1851.6 532.8 L1851.6 524.9 L1851.3 517.7 L1850.8 511.4 L1850.1 506.0 L1849.2 501.7 L1848.2 498.6 L1847.1 496.6 L1846.0 496.0 L1844.9 496.6 L1843.8 498.6 L1842.8 501.7 L1841.9 506.0" stroke="#072a72" stroke-width="5.5" opacity="0.78"/>
<path d="M1136.5 787.1 L1136.0 785.1 L1135.5 783.6 L1134.9 782.6 L1134.3 782.1 L1133.7 782.1 L1133.0 782.6 L1132.5 783.7 L1132.0 785.3 L1131.7 787.3 L1131.4 789.9 L1131.4 792.8 L1131.5 796.1 L1131.8 799.7 L1132.3 803.5 L1133.1 807.6 L1134.0 811.7 L1135.2 815.9 L1136.6 820.1 L1138.2 824.2 L1140.0 828.1 L1142.0 831.8 L1144.2 835.2 L1146.5 838.3 L1149.0 841.0 L1151.5 843.2 L1154.1 845.0 L1156.7 846.3 L1159.3 847.1 L1162.0 847.3 L1164.5 847.0 L1167.0 846.1 L1169.3 844.7 L1171.6 842.8 L1173.6 840.5 L1175.5 837.7 L1177.2 834.5 L1178.7 831.0 L1179.9 827.4 L1181.0 823.5 L1181.8 819.6 L1182.4 815.8 L1182.8 812.0 L1183.0 808.4 L1183.0 805.1 L1182.8 802.2 L1182.5 799.6 L1182.0 797.5 L1181.5 795.8 L1180.9 794.7 L1180.3 794.2 L1179.7 794.2 L1179.0 794.8 L1178.5 795.9 L1178.0 797.6 L1177.7 799.8 L1177.4 802.5 L1177.4 805.6 L1177.5 809.1 L1177.8 813.0 L1178.3 817.1 L1179.1 821.4 L1180.0 825.9 L1181.2 830.4 L1182.6 834.9 L1184.2 839.3 L1186.0 843.6 L1188.0 847.6 L1190.2 851.3 L1192.5 854.6 L1195.0 857.5 L1197.5 859.8 L1200.1 861.6 L1202.7 862.8 L1205.3 863.4 L1208.0 863.4 L1210.5 862.8 L1213.0 861.6 L1215.3 859.8 L1217.6 857.5 L1219.6 854.7 L1221.5 851.5 L1223.2 847.9 L1224.7 844.0 L1225.9 840.0 L1227.0 835.8 L1227.8 831.5 L1228.4 827.4 L1228.8 823.3 L1229.0 819.5 L1229.0 816.0 L1228.8 812.8 L1228.5 810.1 L1228.0 807.9 L1227.5 806.2 L1226.9 805.1 L1226.3 804.6 L1225.7 804.6 L1225.0 805.3 L1224.5 806.6 L1224.0 808.4 L1223.7 810.8 L1223.4 813.7 L1223.4 817.1 L1223.5 820.8 L1223.8 824.9 L1224.3 829.2 L1225.1 833.8 L1226.0 838.4 L1227.2 843.1 L1228.6 847.7 L1230.2 852.2 L1232.0 856.5 L1234.0 860.5 L1236.2 864.1 L1238.5 867.3 L1241.0 870.0 L1243.5 872.2 L1246.1 873.8 L1248.7 874.7 L1251.3 875.1 L1254.0 874.7 L1256.5 873.8 L1259.0 872.2 L1261.3 870.1 L1263.6 867.3 L1265.6 864.1 L1267.5 860.4 L1269.2 856.3 L1270.7 852.0 L1271.9 847.4 L1273.0 842.7 L1273.8 838.0 L1274.4 833.5 L1274.8 829.0 L1275.0 824.9 L1275.0 821.1 L1274.8 817.7 L1274.5 814.9 L1274.0 812.6 L1273.5 810.8 L1272.9 809.7 L1272.3 809.3 L1271.7 809.5 L1271.0 810.3 L1270.5 811.8 L1270.0 813.9 L1269.7 816.5 L1269.4 819.6 L1269.4 823.2 L1269.5 827.2 L1269.8 831.5 L1270.3 836.1 L1271.1 840.9 L1272.0 845.7 L1273.2 850.6 L1274.6 855.3 L1276.2 860.0 L1278.0 864.3 L1280.0 868.4 L1282.2 872.0 L1284.5 875.2 L1287.0 877.8 L1289.5 879.8 L1292.1 881.1 L1294.7 881.7 L1297.3 881.7 L1300.0 880.9 L1302.5 879.3 L1305.0 877.1 L1307.3 874.2 L1309.6 870.7 L1311.6 866.7 L1313.5 862.2 L1315.2 857.3 L1316.7 852.2 L1317.9 846.8 L1319.0 841.4 L1319.8 836.1 L1320.4 830.9 L1320.8 825.9 L1321.0 821.3 L1321.0 817.1 L1320.8 813.4 L1320.5 810.3 L1320.0 807.9 L1319.5 806.1 L1318.9 805.1 L1318.3 804.7 L1317.7 805.1 L1317.0 806.2 L1316.5 807.9 L1316.0 810.3 L1315.7 813.3 L1315.4 816.8 L1315.4 820.8 L1315.5 825.2 L1315.8 829.9 L1316.3 834.8 L1317.1 839.9 L1318.0 845.0 L1319.2 850.0 L1320.6 855.0 L1322.2 859.7 L1324.0 864.1 L1326.0 868.1 L1328.2 871.6 L1330.5 874.5 L1333.0 876.8 L1335.5 878.5 L1338.1 879.4 L1340.7 879.5 L1343.3 878.9 L1346.0 877.4 L1348.5 875.3 L1351.0 872.3 L1353.3 868.7 L1355.6 864.5 L1357.6 859.7 L1359.5 854.5 L1361.2 849.0 L1362.7 843.2 L1363.9 837.2 L1365.0 831.3 L1365.8 825.4 L1366.4 819.8 L1366.8 814.4 L1367.0 809.4 L1367.0 804.9 L1366.8 801.0 L1366.5 797.7 L1366.0 795.1 L1365.5 793.3 L1364.9 792.2 L1364.3 791.8 L1363.7 792.3 L1363.0 793.5 L1362.5 795.4 L1362.0 798.0 L1361.7 801.3 L1361.4 805.1 L1361.4 809.4 L1361.5 814.1 L1361.8 819.2 L1362.3 824.4 L1363.1 829.8 L1364.0 835.2 L1365.2 840.5 L1366.6 845.6 L1368.2 850.4 L1370.0 854.7 L1372.0 858.6 L1374.2 861.9 L1376.5 864.6 L1379.0 866.6 L1381.5 867.9 L1384.1 868.3 L1386.7 868.0 L1389.3 867.0 L1392.0 865.1 L1394.5 862.5 L1397.0 859.3 L1399.3 855.3 L1401.6 850.8 L1403.6 845.7 L1405.5 840.1" stroke="#072a72" stroke-width="4.5" opacity="0.5"/>
<path d="M738.0 849.1 L739.5 853.0 L741.0 853.6 L742.5 851.0 L744.0 845.3 L745.5 837.4 L747.0 828.0 L748.5 818.5 L750.0 809.8 L751.5 803.2 L753.0 799.3 L754.5 798.5 L756.0 799.0 L757.5 800.3 L759.0 802.2 L760.5 804.9 L762.0 808.0 L763.5 811.7 L765.0 815.7 L766.5 820.0 L768.0 824.4 L769.5 828.8 L771.0 833.1 L772.5 837.1 L774.0 840.7 L775.5 843.8 L777.0 846.4 L778.5 848.3 L780.0 849.6 L781.5 850.0 L783.0 849.7 L784.5 848.7 L786.0 847.0 L787.5 844.6 L789.0 841.7 L790.5 838.2 L792.0 834.3 L793.5 830.1 L795.0 825.6 L796.5 821.1 L798.0 816.6 L799.5 812.2 L801.0 808.1 L802.5 804.3 L804.0 801.0 L805.5 798.2 L807.0 796.0 L808.5 794.5 L810.0 793.6 L811.5 793.6 L813.0 794.5 L814.5 796.6 L816.0 799.6 L817.5 803.4 L819.0 807.8 L820.5 812.7 L822.0 817.9 L823.5 823.0 L825.0 827.9 L826.5 832.4 L828.0 836.2 L829.5 839.1 L831.0 841.1 L832.5 842.0 L834.0 841.8 L835.5 840.3 L837.0 837.5 L838.5 833.5 L840.0 828.6 L841.5 822.9 L843.0 816.7 L844.5 810.4 L846.0 804.3 L847.5 798.6 L849.0 793.7 L850.5 789.7 L852.0 786.9 L853.5 785.4 L855.0 785.3 L856.5 786.3 L858.0 788.5 L859.5 791.7 L861.0 795.8 L862.5 800.5 L864.0 805.6 L865.5 811.0 L867.0 816.2 L868.5 821.1 L870.0 825.5 L871.5 829.0 L873.0 831.6 L874.5 833.1 L876.0 833.4 L877.5 832.3 L879.0 829.6 L880.5 825.5 L882.0 820.2 L883.5 813.9 L885.0 807.2 L886.5 800.3 L888.0 793.7 L889.5 787.7 L891.0 782.8 L892.5 779.1 L894.0 776.9 L895.5 776.2 L897.0 776.4 L898.5 777.2 L900.0 778.6 L901.5 780.5 L903.0 782.9 L904.5 785.8 L906.0 789.0 L907.5 792.5 L909.0 796.2 L910.5 800.0 L912.0 803.7 L913.5 807.4 L915.0 811.0 L916.5 814.2 L918.0 817.1 L919.5 819.6 L921.0 821.6 L922.5 823.1 L924.0 824.0 L925.5 824.3 L927.0 823.9 L928.5 822.7 L930.0 820.7 L931.5 818.0 L933.0 814.6 L934.5 810.7 L936.0 806.2 L937.5 801.5 L939.0 796.5 L940.5 791.5 L942.0 786.6 L943.5 781.8 L945.0 777.5 L946.5 773.6 L948.0 770.4 L949.5 767.8 L951.0 766.0 L952.5 765.0 L954.0 765.0 L955.5 766.1 L957.0 768.3 L958.5 771.6 L960.0 775.8 L961.5 780.8 L963.0 786.2 L964.5 791.9 L966.0 797.6 L967.5 803.1 L969.0 808.1 L970.5 812.4 L972.0 815.8 L973.5 818.1 L975.0 819.2 L976.5 819.2 L978.0 818.4 L979.5 817.0 L981.0 814.9 L982.5 812.3 L984.0 809.1 L985.5 805.4 L987.0 801.3 L988.5 796.9 L990.0 792.3 L991.5 787.6 L993.0 782.9 L994.5 778.3 L996.0 774.0 L997.5 769.9 L999.0 766.3 L1000.5 763.2 L1002.0 760.7 L1003.5 758.8 L1005.0 757.5 L1006.5 757.0 L1008.0 757.6 L1009.5 759.4 L1011.0 762.6 L1012.5 766.9 L1014.0 772.2 L1015.5 778.2 L1017.0 784.6 L1018.5 791.3 L1020.0 797.8 L1021.5 803.9 L1023.0 809.4 L1024.5 814.0 L1026.0 817.4 L1027.5 819.6 L1029.0 820.4" stroke="#4580dc" stroke-width="5.6"/>
<path d="M1029.0 820.4 L1030.5 819.9 L1032.0 818.0 L1033.5 814.9 L1035.0 810.8 L1036.5 805.7 L1038.0 799.9 L1039.5 793.7 L1041.0 787.3 L1042.5 781.0 L1044.0 775.0 L1045.5 769.7 L1047.0 765.3 L1048.5 761.9 L1050.0 759.7 L1051.5 758.8 L1053.0 759.3 L1054.5 761.1 L1056.0 764.1 L1057.5 768.3 L1059.0 773.5 L1060.5 779.5 L1062.0 785.9 L1063.5 792.7 L1065.0 799.4 L1066.5 805.8 L1068.0 811.8 L1069.5 816.9 L1071.0 821.1 L1072.5 824.1 L1074.0 826.0 L1075.5 826.5 L1077.0 825.7 L1078.5 823.7 L1080.0 820.5 L1081.5 816.3 L1083.0 811.2 L1084.5 805.6 L1086.0 799.6 L1087.5 793.5 L1089.0 787.6 L1090.5 782.1 L1092.0 777.3 L1093.5 773.4 L1095.0 770.6 L1096.5 769.0 L1098.0 768.7 L1099.5 769.7 L1101.0 772.1 L1102.5 775.7 L1104.0 780.4 L1105.5 786.0 L1107.0 792.3 L1108.5 799.1 L1110.0 806.0 L1111.5 812.9 L1113.0 819.4 L1114.5 825.3 L1116.0 830.4 L1117.5 834.4 L1119.0 837.3 L1120.5 838.8 L1122.0 839.0 L1123.5 837.9 L1125.0 835.5 L1126.5 832.0 L1128.0 827.4 L1129.5 822.1 L1131.0 816.2 L1132.5 810.0 L1134.0 803.8 L1135.5 797.9 L1137.0 792.5 L1138.5 787.9 L1140.0 784.2 L1141.5 781.7 L1143.0 780.5 L1144.5 780.7 L1146.0 782.2 L1147.5 785.1 L1149.0 789.1 L1150.5 794.3 L1152.0 800.4 L1153.5 807.1 L1155.0 814.2 L1156.5 821.5 L1158.0 828.6 L1159.5 835.3 L1161.0 841.2 L1162.5 846.3 L1164.0 850.2 L1165.5 852.8 L1167.0 854.1 L1168.5 853.9 L1170.0 852.4 L1171.5 849.6 L1173.0 845.5 L1174.5 840.5 L1176.0 834.7 L1177.5 828.4 L1179.0 821.9" stroke="#2e68c9" stroke-width="4" opacity="0.55"/>
<path d="M1433.0 807.5 L1433.8 800.4 L1434.4 793.6 L1434.6 787.2 L1434.6 781.3 L1434.3 776.0 L1433.8 771.6 L1433.1 768.0 L1432.2 765.3 L1431.2 763.5 L1430.1 762.8 L1429.0 763.0 L1427.9 764.1 L1426.8 766.2 L1425.8 769.1 L1424.9 772.7 L1424.2 777.0 L1423.7 781.9 L1423.4 787.2 L1423.4 792.9 L1423.6 798.9 L1424.2 805.0 L1425.0 811.1 L1426.2 817.1 L1427.6 822.9 L1429.4 828.4 L1431.4 833.5 L1433.7 838.0 L1436.2 841.9 L1438.9 845.0 L1441.8 847.4 L1444.8 848.8 L1447.9 849.2 L1451.0 848.7 L1454.1 847.1 L1457.2 844.5 L1460.2 841.0 L1463.1 836.5 L1465.8 831.3 L1468.3 825.3 L1470.6 818.7 L1472.6 811.7 L1474.4 804.3 L1475.8 796.7 L1477.0 789.1 L1477.8 781.6 L1478.4 774.4 L1478.6 767.5 L1478.6 761.2 L1478.3 755.6 L1477.8 750.8 L1477.1 746.8 L1476.2 743.7 L1475.2 741.6 L1474.1 740.6 L1473.0 740.5 L1471.9 741.5 L1470.8 743.5 L1469.8 746.4 L1468.9 750.2 L1468.2 754.8 L1467.7 760.1 L1467.4 765.9 L1467.4 772.2 L1467.6 778.8 L1468.2 785.5 L1469.0 792.3 L1470.2 799.0 L1471.6 805.4 L1473.4 811.4 L1475.4 816.9 L1477.7 821.8 L1480.2 825.9 L1482.9 829.1 L1485.8 831.4 L1488.8 832.7 L1491.9 833.0 L1495.0 832.2 L1498.1 830.3 L1501.2 827.4 L1504.2 823.5 L1507.1 818.6 L1509.8 812.9 L1512.3 806.5 L1514.6 799.4 L1516.6 791.9 L1518.4 783.9 L1519.8 775.9 L1521.0 767.8 L1521.8 759.8 L1522.4 752.2 L1522.6 745.0 L1522.6 738.4 L1522.3 732.6 L1521.8 727.6 L1521.1 723.6 L1520.2 720.6 L1519.2 718.6 L1518.1 717.7 L1517.0 717.9 L1515.9 719.1 L1514.8 721.4 L1513.8 724.6 L1512.9 728.7 L1512.2 733.6 L1511.7 739.1 L1511.4 745.2 L1511.4 751.6 L1511.6 758.4 L1512.2 765.3 L1513.0 772.2 L1514.2 779.0 L1515.6 785.4 L1517.4 791.5 L1519.4 797.0 L1521.7 801.7 L1524.2 805.7 L1526.9 808.8 L1529.8 811.0 L1532.8 812.1 L1535.9 812.1 L1539.0 810.9 L1542.1 808.7 L1545.2 805.4 L1548.2 801.1 L1551.1 795.8 L1553.8 789.7 L1556.3 782.8 L1558.6 775.3 L1560.6 767.4 L1562.4 759.2 L1563.8 750.8 L1565.0 742.5 L1565.8 734.4 L1566.4 726.6 L1566.6 719.2 L1566.6 712.5 L1566.3 706.5 L1565.8 701.4 L1565.1 697.2 L1564.2 694.0 L1563.2 691.8 L1562.1 690.8 L1561.0 690.8 L1559.9 692.0 L1558.8 694.2 L1557.8 697.5 L1556.9 701.7 L1556.2 706.7 L1555.7 712.4 L1555.4 718.8 L1555.4 725.5 L1555.6 732.6 L1556.2 739.8 L1557.0 747.0 L1558.2 754.1 L1559.6 760.8 L1561.4 767.0 L1563.4 772.6 L1565.7 777.4 L1568.2 781.3 L1570.9 784.3 L1573.8 786.2 L1576.8 787.1 L1579.9 786.8 L1583.0 785.4 L1586.1 782.9 L1589.2 779.4 L1592.2 774.9 L1595.1 769.6 L1597.8 763.5 L1600.3 756.7 L1602.6 749.3 L1604.6 741.6 L1606.4 733.5 L1607.8 725.4 L1609.0 717.2 L1609.8 709.3 L1610.4 701.7 L1610.6 694.6 L1610.6 688.0 L1610.3 682.2 L1609.8 677.2 L1609.1 673.2 L1608.2 670.1 L1607.2 668.1 L1606.1 667.1 L1605.0 667.2 L1603.9 668.4 L1602.8 670.6 L1601.8 673.7 L1600.9 677.8 L1600.2 682.7 L1599.7 688.3 L1599.4 694.5 L1599.4 701.1 L1599.6 707.9 L1600.2 714.9 L1601.0 721.9 L1602.2 728.7 L1603.6 735.2 L1605.4 741.1 L1607.4 746.5 L1609.7 751.1 L1612.2 754.8 L1614.9 757.6 L1617.8 759.4 L1620.8 760.2 L1623.9 759.9 L1627.0 758.5 L1630.1 756.0 L1633.2 752.6 L1636.2 748.2 L1639.1 742.9 L1641.8 736.8 L1644.3 730.0 L1646.6 722.6 L1648.6 714.7 L1650.4 706.5 L1651.8 698.1 L1653.0 689.8 L1653.8 681.6 L1654.4 673.7 L1654.6 666.3 L1654.6 659.6 L1654.3 653.6 L1653.8 648.6 L1653.1 644.6 L1652.2 641.6 L1651.2 639.7 L1650.1 639.0 L1649.0 639.3 L1647.9 640.7 L1646.8 643.2 L1645.8 646.6 L1644.9 650.8 L1644.2 655.8 L1643.7 661.5 L1643.4 667.7 L1643.4 674.3 L1643.6 681.2 L1644.2 688.2 L1645.0 695.1 L1646.2 701.8 L1647.6 708.3 L1649.4 714.3 L1651.4 719.7 L1653.7 724.5 L1656.2 728.5 L1658.9 731.7 L1661.8 734.0 L1664.8 735.3 L1667.9 735.5 L1671.0 734.6 L1674.1 732.6 L1677.2 729.4 L1680.2 725.1 L1683.1 719.6 L1685.8 713.2 L1688.3 705.8 L1690.6 697.7 L1692.6 689.0 L1694.4 679.9 L1695.8 670.5 L1697.0 661.2 L1697.8 652.0 L1698.4 643.1 L1698.6 634.9 L1698.6 627.3 L1698.3 620.5 L1697.8 614.8 L1697.1 610.2 L1696.2 606.7 L1695.2 604.5 L1694.1 603.5 L1693.0 603.8 L1691.9 605.3 L1690.8 607.9 L1689.8 611.7 L1688.9 616.5 L1688.2 622.1 L1687.7 628.5 L1687.4 635.4 L1687.4 642.9 L1687.6 650.6 L1688.2 658.6 L1689.0 666.5 L1690.2 674.2 L1691.6 681.6 L1693.4 688.6 L1695.4 694.9 L1697.7 700.4 L1700.2 705.0 L1702.9 708.6 L1705.8 711.0 L1708.8 712.2 L1711.9 712.2 L1715.0 710.8 L1718.1 708.2 L1721.2 704.3 L1724.2 699.2 L1727.1 693.0 L1729.8 685.9 L1732.3 677.9 L1734.6 669.1 L1736.6 659.9 L1738.4 650.3 L1739.8 640.5 L1741.0 630.8 L1741.8 621.2 L1742.4 612.1 L1742.6 603.5 L1742.6 595.6 L1742.3 588.6 L1741.8 582.6 L1741.1 577.7 L1740.2 574.0 L1739.2 571.6 L1738.1 570.5 L1737.0 570.6 L1735.9 572.1 L1734.8 574.8 L1733.8 578.6 L1732.9 583.5 L1732.2 589.4 L1731.7 596.1 L1731.4 603.5 L1731.4 611.4 L1731.6 619.6 L1732.2 627.9 L1733.0 636.3 L1734.2 644.4 L1735.6 652.2 L1737.4 659.4 L1739.4 665.9 L1741.7 671.6 L1744.2 676.2 L1746.9 679.8 L1749.8 682.2 L1752.8 683.3 L1755.9 683.1 L1759.0 681.7 L1762.1 678.9 L1765.2 674.9 L1768.2 669.8 L1771.1 663.5 L1773.8 656.2 L1776.3 647.9 L1778.6 638.9 L1780.6 629.4 L1782.4 619.5 L1783.8 609.4 L1785.0 599.3 L1785.8 589.5 L1786.4 580.0 L1786.6 571.2 L1786.6 563.2 L1786.3 556.0 L1785.8 549.9 L1785.1 544.9 L1784.2 541.2 L1783.2 538.8 L1782.1 537.7 L1781.0 537.9 L1779.9 539.4 L1778.8 542.2 L1777.8 546.2 L1776.9 551.3 L1776.2 557.3 L1775.7 564.2 L1775.4 571.8 L1775.4 579.8 L1775.6 588.2 L1776.2 596.8 L1777.0 605.3 L1778.2 613.6 L1779.6 621.5 L1781.4 628.9 L1783.4 635.4 L1785.7 641.1 L1788.2 645.6 L1790.9 649.1 L1793.8 651.2 L1796.8 652.0 L1799.9 651.4 L1803.0 649.5 L1806.1 646.3 L1809.2 641.8 L1812.2 636.1 L1815.1 629.3 L1817.8 621.6 L1820.3 613.0 L1822.6 603.8 L1824.6 594.1 L1826.4 584.1 L1827.8 574.0 L1829.0 563.9 L1829.8 554.1 L1830.4 544.8 L1830.6 536.0 L1830.6 528.0 L1830.3 521.0 L1829.8 514.9 L1829.1 510.0 L1828.2 506.4 L1827.2 504.0 L1826.1 502.9 L1825.0 503.2 L1823.9 504.7 L1822.8 507.5 L1821.8 511.5 L1820.9 516.6 L1820.2 522.7 L1819.7 529.6 L1819.4 537.1 L1819.4 545.2 L1819.6 553.5 L1820.2 562.0 L1821.0 570.5 L1822.2 578.6 L1823.6 586.4 L1825.4 593.5 L1827.4 599.8 L1829.7 605.2 L1832.2 609.6 L1834.9 612.8 L1837.8 616.3 L1840.8 619.4 L1843.9 621.4 L1847.0 622.0 L1850.1 621.4 L1853.2 619.4 L1856.2 616.3" stroke="#2b63c4" stroke-width="4" opacity="0.3"/>
</g>
<path d="M733 800 L736 800 L736 855 L733 855 Z" fill="#2a62c4"/>
<path d="M1325.0 904.0 C1337.5 900.7 1379.2 890.0 1400.0 884.0 C1420.8 878.0 1433.3 873.7 1450.0 868.0 C1466.7 862.3 1483.3 856.8 1500.0 850.0 C1516.7 843.2 1533.3 835.7 1550.0 827.0 C1566.7 818.3 1583.3 807.8 1600.0 798.0 C1616.7 788.2 1633.3 777.3 1650.0 768.0 C1666.7 758.7 1681.7 753.0 1700.0 742.0 C1718.3 731.0 1737.5 716.3 1760.0 702.0 C1782.5 687.7 1822.5 663.7 1835.0 656.0 C1842.5 660.3 1862.5 671.3 1880.0 682.0 C1897.5 692.7 1930.0 713.7 1940.0 720.0 L1940 742 C1923.3 748.0 1870.0 766.8 1840.0 778.0 C1810.0 789.2 1783.3 799.8 1760.0 809.0 C1736.7 818.2 1718.3 826.2 1700.0 833.0 C1681.7 839.8 1666.7 844.3 1650.0 850.0 C1633.3 855.7 1616.7 862.0 1600.0 867.0 C1583.3 872.0 1566.7 876.2 1550.0 880.0 C1533.3 883.8 1516.7 887.3 1500.0 890.0 C1483.3 892.7 1466.7 894.5 1450.0 896.0 C1433.3 897.5 1421.3 897.7 1400.0 899.0 C1378.7 900.3 1335.0 903.2 1322.0 904.0 Z" fill="url(#under)" stroke="#0f3f98" stroke-width="1"/><path d="M1325.0 904.0 C1337.5 900.7 1379.2 890.0 1400.0 884.0 C1420.8 878.0 1433.3 873.7 1450.0 868.0 C1466.7 862.3 1483.3 856.8 1500.0 850.0 C1516.7 843.2 1533.3 835.7 1550.0 827.0 C1566.7 818.3 1583.3 807.8 1600.0 798.0 C1616.7 788.2 1633.3 777.3 1650.0 768.0 C1666.7 758.7 1681.7 753.0 1700.0 742.0 C1718.3 731.0 1737.5 716.3 1760.0 702.0 C1782.5 687.7 1822.5 663.7 1835.0 656.0 C1842.5 660.3 1862.5 671.3 1880.0 682.0 C1897.5 692.7 1930.0 713.7 1940.0 720.0 L1940 742 C1923.3 748.0 1870.0 766.8 1840.0 778.0 C1810.0 789.2 1783.3 799.8 1760.0 809.0 C1736.7 818.2 1718.3 826.2 1700.0 833.0 C1681.7 839.8 1666.7 844.3 1650.0 850.0 C1633.3 855.7 1616.7 862.0 1600.0 867.0 C1583.3 872.0 1566.7 876.2 1550.0 880.0 C1533.3 883.8 1516.7 887.3 1500.0 890.0 C1483.3 892.7 1466.7 894.5 1450.0 896.0 C1433.3 897.5 1421.3 897.7 1400.0 899.0 C1378.7 900.3 1335.0 903.2 1322.0 904.0 Z" fill="url(#hd2)"/>
<path d="M1322.0 904.0 C1335.0 903.2 1378.7 900.3 1400.0 899.0 C1421.3 897.7 1433.3 897.5 1450.0 896.0 C1466.7 894.5 1483.3 892.7 1500.0 890.0 C1516.7 887.3 1533.3 883.8 1550.0 880.0 C1566.7 876.2 1583.3 872.0 1600.0 867.0 C1616.7 862.0 1633.3 855.7 1650.0 850.0 C1666.7 844.3 1681.7 839.8 1700.0 833.0 C1718.3 826.2 1736.7 818.2 1760.0 809.0 C1783.3 799.8 1810.0 789.2 1840.0 778.0 C1870.0 766.8 1923.3 748.0 1940.0 742.0" fill="none" stroke="#082b73" stroke-width="3" opacity="0.6"/>
<path d="M733.4 853.4 C741.5 852.7 767.1 850.7 782.0 849.0 C796.9 847.3 809.3 845.4 823.0 843.0 C836.7 840.6 850.2 837.5 864.0 834.8 C877.8 832.1 892.2 829.0 906.0 826.6 C919.8 824.2 933.3 821.8 947.0 820.4 C960.7 819.0 974.3 818.2 988.0 818.0 C1001.7 817.8 1015.3 818.3 1029.0 819.4 C1042.7 820.5 1058.2 822.4 1070.0 824.5 C1081.8 826.6 1086.7 828.2 1100.0 832.0 C1113.3 835.8 1133.3 841.5 1150.0 847.0 C1166.7 852.5 1183.3 859.8 1200.0 865.0 C1216.7 870.2 1233.3 874.7 1250.0 878.0 C1266.7 881.3 1283.3 884.5 1300.0 885.0 C1316.7 885.5 1333.3 884.0 1350.0 881.0 C1366.7 878.0 1383.3 871.8 1400.0 867.0 C1416.7 862.2 1433.3 857.7 1450.0 852.0 C1466.7 846.3 1483.3 840.3 1500.0 833.0 C1516.7 825.7 1533.3 817.2 1550.0 808.0 C1566.7 798.8 1583.3 788.0 1600.0 778.0 C1616.7 768.0 1633.3 757.2 1650.0 748.0 C1666.7 738.8 1681.7 733.7 1700.0 723.0 C1718.3 712.3 1745.0 694.0 1760.0 684.0 C1775.0 674.0 1777.3 672.8 1790.0 663.0 C1802.7 653.2 1828.3 631.3 1836.0 625.0 C1843.3 629.5 1862.7 640.7 1880.0 652.0 C1897.3 663.3 1930.0 686.2 1940.0 693.0 L1940 720 C1930.0 713.7 1897.5 692.7 1880.0 682.0 C1862.5 671.3 1842.5 660.3 1835.0 656.0 C1822.5 663.7 1782.5 687.7 1760.0 702.0 C1737.5 716.3 1718.3 731.0 1700.0 742.0 C1681.7 753.0 1666.7 758.7 1650.0 768.0 C1633.3 777.3 1616.7 788.2 1600.0 798.0 C1583.3 807.8 1566.7 818.3 1550.0 827.0 C1533.3 835.7 1516.7 843.2 1500.0 850.0 C1483.3 856.8 1466.7 862.3 1450.0 868.0 C1433.3 873.7 1420.8 878.0 1400.0 884.0 C1379.2 890.0 1341.7 900.8 1325.0 904.0 C1308.3 907.2 1312.5 904.2 1300.0 903.0 C1287.5 901.8 1266.7 900.3 1250.0 897.0 C1233.3 893.7 1216.7 888.3 1200.0 883.0 C1183.3 877.7 1166.7 870.5 1150.0 865.0 C1133.3 859.5 1113.3 853.8 1100.0 850.0 C1086.7 846.2 1081.8 844.3 1070.0 842.0 C1058.2 839.7 1042.7 837.4 1029.0 836.0 C1015.3 834.6 1001.7 834.0 988.0 833.8 C974.3 833.6 960.7 833.8 947.0 835.0 C933.3 836.2 919.8 838.7 906.0 841.0 C892.2 843.3 877.8 846.2 864.0 849.0 C850.2 851.8 836.7 855.4 823.0 857.5 C809.3 859.6 796.9 860.4 782.0 861.6 C767.1 862.8 741.5 864.2 733.4 864.7 Z" fill="#1b53b4"/><path d="M733.4 853.4 C741.5 852.7 767.1 850.7 782.0 849.0 C796.9 847.3 809.3 845.4 823.0 843.0 C836.7 840.6 850.2 837.5 864.0 834.8 C877.8 832.1 892.2 829.0 906.0 826.6 C919.8 824.2 933.3 821.8 947.0 820.4 C960.7 819.0 974.3 818.2 988.0 818.0 C1001.7 817.8 1015.3 818.3 1029.0 819.4 C1042.7 820.5 1058.2 822.4 1070.0 824.5 C1081.8 826.6 1086.7 828.2 1100.0 832.0 C1113.3 835.8 1133.3 841.5 1150.0 847.0 C1166.7 852.5 1183.3 859.8 1200.0 865.0 C1216.7 870.2 1233.3 874.7 1250.0 878.0 C1266.7 881.3 1283.3 884.5 1300.0 885.0 C1316.7 885.5 1333.3 884.0 1350.0 881.0 C1366.7 878.0 1383.3 871.8 1400.0 867.0 C1416.7 862.2 1433.3 857.7 1450.0 852.0 C1466.7 846.3 1483.3 840.3 1500.0 833.0 C1516.7 825.7 1533.3 817.2 1550.0 808.0 C1566.7 798.8 1583.3 788.0 1600.0 778.0 C1616.7 768.0 1633.3 757.2 1650.0 748.0 C1666.7 738.8 1681.7 733.7 1700.0 723.0 C1718.3 712.3 1745.0 694.0 1760.0 684.0 C1775.0 674.0 1777.3 672.8 1790.0 663.0 C1802.7 653.2 1828.3 631.3 1836.0 625.0 C1843.3 629.5 1862.7 640.7 1880.0 652.0 C1897.3 663.3 1930.0 686.2 1940.0 693.0 L1940 720 C1930.0 713.7 1897.5 692.7 1880.0 682.0 C1862.5 671.3 1842.5 660.3 1835.0 656.0 C1822.5 663.7 1782.5 687.7 1760.0 702.0 C1737.5 716.3 1718.3 731.0 1700.0 742.0 C1681.7 753.0 1666.7 758.7 1650.0 768.0 C1633.3 777.3 1616.7 788.2 1600.0 798.0 C1583.3 807.8 1566.7 818.3 1550.0 827.0 C1533.3 835.7 1516.7 843.2 1500.0 850.0 C1483.3 856.8 1466.7 862.3 1450.0 868.0 C1433.3 873.7 1420.8 878.0 1400.0 884.0 C1379.2 890.0 1341.7 900.8 1325.0 904.0 C1308.3 907.2 1312.5 904.2 1300.0 903.0 C1287.5 901.8 1266.7 900.3 1250.0 897.0 C1233.3 893.7 1216.7 888.3 1200.0 883.0 C1183.3 877.7 1166.7 870.5 1150.0 865.0 C1133.3 859.5 1113.3 853.8 1100.0 850.0 C1086.7 846.2 1081.8 844.3 1070.0 842.0 C1058.2 839.7 1042.7 837.4 1029.0 836.0 C1015.3 834.6 1001.7 834.0 988.0 833.8 C974.3 833.6 960.7 833.8 947.0 835.0 C933.3 836.2 919.8 838.7 906.0 841.0 C892.2 843.3 877.8 846.2 864.0 849.0 C850.2 851.8 836.7 855.4 823.0 857.5 C809.3 859.6 796.9 860.4 782.0 861.6 C767.1 862.8 741.5 864.2 733.4 864.7 Z" fill="url(#hv)"/>
<path d="M733.4 853.4 C741.5 852.7 767.1 850.7 782.0 849.0 C796.9 847.3 809.3 845.4 823.0 843.0 C836.7 840.6 850.2 837.5 864.0 834.8 C877.8 832.1 892.2 829.0 906.0 826.6 C919.8 824.2 933.3 821.8 947.0 820.4 C960.7 819.0 974.3 818.2 988.0 818.0 C1001.7 817.8 1015.3 818.3 1029.0 819.4 C1042.7 820.5 1058.2 822.4 1070.0 824.5 C1081.8 826.6 1086.7 828.2 1100.0 832.0 C1113.3 835.8 1133.3 841.5 1150.0 847.0 C1166.7 852.5 1183.3 859.8 1200.0 865.0 C1216.7 870.2 1233.3 874.7 1250.0 878.0 C1266.7 881.3 1283.3 884.5 1300.0 885.0 C1316.7 885.5 1333.3 884.0 1350.0 881.0 C1366.7 878.0 1383.3 871.8 1400.0 867.0 C1416.7 862.2 1433.3 857.7 1450.0 852.0 C1466.7 846.3 1483.3 840.3 1500.0 833.0 C1516.7 825.7 1533.3 817.2 1550.0 808.0 C1566.7 798.8 1583.3 788.0 1600.0 778.0 C1616.7 768.0 1633.3 757.2 1650.0 748.0 C1666.7 738.8 1681.7 733.7 1700.0 723.0 C1718.3 712.3 1745.0 694.0 1760.0 684.0 C1775.0 674.0 1777.3 672.8 1790.0 663.0 C1802.7 653.2 1828.3 631.3 1836.0 625.0 C1843.3 629.5 1862.7 640.7 1880.0 652.0 C1897.3 663.3 1930.0 686.2 1940.0 693.0" fill="none" stroke="#3a76d6" stroke-width="1" opacity="0.7"/>
<path d="M733.4 790.7 C741.5 790.0 767.1 788.2 782.0 786.6 C796.9 785.0 809.3 783.7 823.0 781.4 C836.7 779.1 850.2 775.7 864.0 773.0 C877.8 770.3 892.2 768.1 906.0 765.0 C919.8 761.9 933.3 757.9 947.0 754.6 C960.7 751.3 976.0 747.5 988.0 745.4 C1000.0 743.3 1008.7 742.6 1019.0 742.3 C1029.3 741.9 1038.0 741.9 1050.0 743.3 C1062.0 744.7 1079.3 748.1 1091.0 750.5 C1102.7 752.9 1110.2 755.4 1120.0 757.5 C1129.8 759.6 1136.7 759.9 1150.0 763.0 C1163.3 766.1 1183.3 772.3 1200.0 776.0 C1216.7 779.7 1233.3 783.3 1250.0 785.0 C1266.7 786.7 1283.3 788.0 1300.0 786.0 C1316.7 784.0 1333.3 779.7 1350.0 773.0 C1366.7 766.3 1383.3 754.5 1400.0 746.0 C1416.7 737.5 1433.3 730.7 1450.0 722.0 C1466.7 713.3 1484.2 703.5 1500.0 694.0 C1515.8 684.5 1528.3 676.2 1545.0 665.0 C1561.7 653.8 1584.2 638.5 1600.0 627.0 C1615.8 615.5 1626.7 607.0 1640.0 596.0 C1653.3 585.0 1664.3 574.3 1680.0 561.0 C1695.7 547.7 1717.8 529.3 1734.0 516.0 C1750.2 502.7 1762.0 493.0 1777.0 481.0 C1792.0 469.0 1816.2 450.2 1824.0 444.0 C1826.7 448.3 1835.5 462.2 1840.0 470.0 C1844.5 477.8 1846.5 480.5 1851.0 491.0 C1855.5 501.5 1860.0 519.3 1867.0 533.0 C1874.0 546.7 1884.2 561.3 1893.0 573.0 C1901.8 584.7 1912.2 596.3 1920.0 603.0 C1927.8 609.7 1936.7 611.3 1940.0 613.0 L1940 646 C1934.2 639.7 1915.0 619.8 1905.0 608.0 C1895.0 596.2 1887.7 586.7 1880.0 575.0 C1872.3 563.3 1864.5 548.0 1859.0 538.0 C1853.5 528.0 1851.2 522.5 1847.0 515.0 C1842.8 507.5 1836.2 496.7 1834.0 493.0 C1828.3 497.5 1812.3 510.3 1800.0 520.0 C1787.7 529.7 1773.3 541.0 1760.0 551.0 C1746.7 561.0 1733.3 570.0 1720.0 580.0 C1706.7 590.0 1693.3 600.5 1680.0 611.0 C1666.7 621.5 1653.3 633.7 1640.0 643.0 C1626.7 652.3 1615.0 658.5 1600.0 667.0 C1585.0 675.5 1566.7 684.3 1550.0 694.0 C1533.3 703.7 1516.7 716.0 1500.0 725.0 C1483.3 734.0 1466.7 739.5 1450.0 748.0 C1433.3 756.5 1416.7 768.5 1400.0 776.0 C1383.3 783.5 1366.7 788.2 1350.0 793.0 C1333.3 797.8 1316.7 803.0 1300.0 805.0 C1283.3 807.0 1266.7 806.5 1250.0 805.0 C1233.3 803.5 1216.7 799.7 1200.0 796.0 C1183.3 792.3 1163.3 786.4 1150.0 783.0 C1136.7 779.6 1129.8 778.0 1120.0 775.5 C1110.2 773.0 1102.7 770.7 1091.0 768.0 C1079.3 765.3 1062.0 761.2 1050.0 759.5 C1038.0 757.8 1029.3 757.7 1019.0 757.7 C1008.7 757.8 1000.0 758.2 988.0 759.8 C976.0 761.3 960.7 764.5 947.0 767.0 C933.3 769.5 919.8 772.2 906.0 775.0 C892.2 777.8 877.8 781.0 864.0 784.0 C850.2 787.0 836.7 790.6 823.0 792.8 C809.3 795.0 796.9 795.8 782.0 797.2 C767.1 798.6 741.5 800.4 733.4 801.0 Z" fill="#1c55b6"/><path d="M733.4 790.7 C741.5 790.0 767.1 788.2 782.0 786.6 C796.9 785.0 809.3 783.7 823.0 781.4 C836.7 779.1 850.2 775.7 864.0 773.0 C877.8 770.3 892.2 768.1 906.0 765.0 C919.8 761.9 933.3 757.9 947.0 754.6 C960.7 751.3 976.0 747.5 988.0 745.4 C1000.0 743.3 1008.7 742.6 1019.0 742.3 C1029.3 741.9 1038.0 741.9 1050.0 743.3 C1062.0 744.7 1079.3 748.1 1091.0 750.5 C1102.7 752.9 1110.2 755.4 1120.0 757.5 C1129.8 759.6 1136.7 759.9 1150.0 763.0 C1163.3 766.1 1183.3 772.3 1200.0 776.0 C1216.7 779.7 1233.3 783.3 1250.0 785.0 C1266.7 786.7 1283.3 788.0 1300.0 786.0 C1316.7 784.0 1333.3 779.7 1350.0 773.0 C1366.7 766.3 1383.3 754.5 1400.0 746.0 C1416.7 737.5 1433.3 730.7 1450.0 722.0 C1466.7 713.3 1484.2 703.5 1500.0 694.0 C1515.8 684.5 1528.3 676.2 1545.0 665.0 C1561.7 653.8 1584.2 638.5 1600.0 627.0 C1615.8 615.5 1626.7 607.0 1640.0 596.0 C1653.3 585.0 1664.3 574.3 1680.0 561.0 C1695.7 547.7 1717.8 529.3 1734.0 516.0 C1750.2 502.7 1762.0 493.0 1777.0 481.0 C1792.0 469.0 1816.2 450.2 1824.0 444.0 C1826.7 448.3 1835.5 462.2 1840.0 470.0 C1844.5 477.8 1846.5 480.5 1851.0 491.0 C1855.5 501.5 1860.0 519.3 1867.0 533.0 C1874.0 546.7 1884.2 561.3 1893.0 573.0 C1901.8 584.7 1912.2 596.3 1920.0 603.0 C1927.8 609.7 1936.7 611.3 1940.0 613.0 L1940 646 C1934.2 639.7 1915.0 619.8 1905.0 608.0 C1895.0 596.2 1887.7 586.7 1880.0 575.0 C1872.3 563.3 1864.5 548.0 1859.0 538.0 C1853.5 528.0 1851.2 522.5 1847.0 515.0 C1842.8 507.5 1836.2 496.7 1834.0 493.0 C1828.3 497.5 1812.3 510.3 1800.0 520.0 C1787.7 529.7 1773.3 541.0 1760.0 551.0 C1746.7 561.0 1733.3 570.0 1720.0 580.0 C1706.7 590.0 1693.3 600.5 1680.0 611.0 C1666.7 621.5 1653.3 633.7 1640.0 643.0 C1626.7 652.3 1615.0 658.5 1600.0 667.0 C1585.0 675.5 1566.7 684.3 1550.0 694.0 C1533.3 703.7 1516.7 716.0 1500.0 725.0 C1483.3 734.0 1466.7 739.5 1450.0 748.0 C1433.3 756.5 1416.7 768.5 1400.0 776.0 C1383.3 783.5 1366.7 788.2 1350.0 793.0 C1333.3 797.8 1316.7 803.0 1300.0 805.0 C1283.3 807.0 1266.7 806.5 1250.0 805.0 C1233.3 803.5 1216.7 799.7 1200.0 796.0 C1183.3 792.3 1163.3 786.4 1150.0 783.0 C1136.7 779.6 1129.8 778.0 1120.0 775.5 C1110.2 773.0 1102.7 770.7 1091.0 768.0 C1079.3 765.3 1062.0 761.2 1050.0 759.5 C1038.0 757.8 1029.3 757.7 1019.0 757.7 C1008.7 757.8 1000.0 758.2 988.0 759.8 C976.0 761.3 960.7 764.5 947.0 767.0 C933.3 769.5 919.8 772.2 906.0 775.0 C892.2 777.8 877.8 781.0 864.0 784.0 C850.2 787.0 836.7 790.6 823.0 792.8 C809.3 795.0 796.9 795.8 782.0 797.2 C767.1 798.6 741.5 800.4 733.4 801.0 Z" fill="url(#hv)"/>
<path d="M733.4 790.7 C741.5 790.0 767.1 788.2 782.0 786.6 C796.9 785.0 809.3 783.7 823.0 781.4 C836.7 779.1 850.2 775.7 864.0 773.0 C877.8 770.3 892.2 768.1 906.0 765.0 C919.8 761.9 933.3 757.9 947.0 754.6 C960.7 751.3 976.0 747.5 988.0 745.4 C1000.0 743.3 1008.7 742.6 1019.0 742.3 C1029.3 741.9 1038.0 741.9 1050.0 743.3 C1062.0 744.7 1079.3 748.1 1091.0 750.5 C1102.7 752.9 1110.2 755.4 1120.0 757.5 C1129.8 759.6 1136.7 759.9 1150.0 763.0 C1163.3 766.1 1183.3 772.3 1200.0 776.0 C1216.7 779.7 1233.3 783.3 1250.0 785.0 C1266.7 786.7 1283.3 788.0 1300.0 786.0 C1316.7 784.0 1333.3 779.7 1350.0 773.0 C1366.7 766.3 1383.3 754.5 1400.0 746.0 C1416.7 737.5 1433.3 730.7 1450.0 722.0 C1466.7 713.3 1484.2 703.5 1500.0 694.0 C1515.8 684.5 1528.3 676.2 1545.0 665.0 C1561.7 653.8 1584.2 638.5 1600.0 627.0 C1615.8 615.5 1626.7 607.0 1640.0 596.0 C1653.3 585.0 1664.3 574.3 1680.0 561.0 C1695.7 547.7 1717.8 529.3 1734.0 516.0 C1750.2 502.7 1762.0 493.0 1777.0 481.0 C1792.0 469.0 1816.2 450.2 1824.0 444.0" fill="none" stroke="#5a97ee" stroke-width="1.2" opacity="0.8"/>
<path d="M733.5 791 L733.5 865" stroke="#2e68ca" stroke-width="1.4" fill="none"/>
<g filter="url(#blur2g)" fill="#ffffff" opacity="0.16"><rect x="1170" y="600" width="90" height="90"/><rect x="1318" y="565" width="86" height="85"/><rect x="1470" y="545" width="82" height="65"/></g>
<linearGradient id="ag1" x1="0" y1="320.0" x2="0" y2="708.0" gradientUnits="userSpaceOnUse"><stop offset="0" stop-color="#0a9ee9"/><stop offset="0.138" stop-color="#10a1ea"/><stop offset="0.461" stop-color="#70c5f1"/><stop offset="0.637" stop-color="#bfe3f8"/><stop offset="0.714" stop-color="#dcecfc" stop-opacity="0.88"/><stop offset="0.834" stop-color="#ffffff" stop-opacity="0.68"/><stop offset="0.928" stop-color="#ffffff" stop-opacity="0.24"/><stop offset="1" stop-color="#ffffff" stop-opacity="0"/></linearGradient>
<linearGradient id="ae1" x1="0" y1="320.0" x2="0" y2="708.0" gradientUnits="userSpaceOnUse"><stop offset="0" stop-color="#0765b8"/><stop offset="0.513" stop-color="#0b74c9"/><stop offset="0.714" stop-color="#2b8fdd" stop-opacity="0.9"/><stop offset="0.828" stop-color="#cfe4fb" stop-opacity="0.6"/><stop offset="1" stop-color="#ffffff" stop-opacity="0"/></linearGradient>
<path d="M1209.5 320.0 L1289.5 505.5 L1251.5 505.5 L1251.5 708.0 L1248.5 708.0 L1248.5 503.0 L1285.0 503.0 L1208.0 320.0 Z" fill="url(#ae1)"/><path d="M1208.0 320.0 L1285.0 503.0 L1248.5 503.0 L1248.5 708.0 L1180.5 708.0 L1180.5 499.0 L1147.0 499.0 Z" fill="url(#ag1)"/>
<linearGradient id="ag2" x1="0" y1="291.0" x2="0" y2="670.0" gradientUnits="userSpaceOnUse"><stop offset="0" stop-color="#0a9ee9"/><stop offset="0.137" stop-color="#10a1ea"/><stop offset="0.456" stop-color="#70c5f1"/><stop offset="0.633" stop-color="#bfe3f8"/><stop offset="0.712" stop-color="#dcecfc" stop-opacity="0.88"/><stop offset="0.833" stop-color="#ffffff" stop-opacity="0.68"/><stop offset="0.928" stop-color="#ffffff" stop-opacity="0.24"/><stop offset="1" stop-color="#ffffff" stop-opacity="0"/></linearGradient>
<linearGradient id="ae2" x1="0" y1="291.0" x2="0" y2="670.0" gradientUnits="userSpaceOnUse"><stop offset="0" stop-color="#0765b8"/><stop offset="0.509" stop-color="#0b74c9"/><stop offset="0.712" stop-color="#2b8fdd" stop-opacity="0.9"/><stop offset="0.827" stop-color="#cfe4fb" stop-opacity="0.6"/><stop offset="1" stop-color="#ffffff" stop-opacity="0"/></linearGradient>
<path d="M1356.5 291.0 L1436.5 470.5 L1396.5 470.5 L1396.5 670.0 L1393.5 670.0 L1393.5 468.0 L1432.0 468.0 L1355.0 291.0 Z" fill="url(#ae2)"/><path d="M1355.0 291.0 L1432.0 468.0 L1393.5 468.0 L1393.5 670.0 L1327.5 670.0 L1327.5 464.0 L1295.0 464.0 Z" fill="url(#ag2)"/>
<linearGradient id="ag3" x1="0" y1="268.0" x2="0" y2="628.0" gradientUnits="userSpaceOnUse"><stop offset="0" stop-color="#0a9ee9"/><stop offset="0.137" stop-color="#10a1ea"/><stop offset="0.457" stop-color="#70c5f1"/><stop offset="0.675" stop-color="#bfe3f8"/><stop offset="0.758" stop-color="#dcecfc" stop-opacity="0.88"/><stop offset="0.860" stop-color="#ffffff" stop-opacity="0.68"/><stop offset="0.940" stop-color="#ffffff" stop-opacity="0.24"/><stop offset="1" stop-color="#ffffff" stop-opacity="0"/></linearGradient>
<linearGradient id="ae3" x1="0" y1="268.0" x2="0" y2="628.0" gradientUnits="userSpaceOnUse"><stop offset="0" stop-color="#0765b8"/><stop offset="0.512" stop-color="#0b74c9"/><stop offset="0.758" stop-color="#2b8fdd" stop-opacity="0.9"/><stop offset="0.855" stop-color="#cfe4fb" stop-opacity="0.6"/><stop offset="1" stop-color="#ffffff" stop-opacity="0"/></linearGradient>
<path d="M1506.5 268.0 L1581.5 439.5 L1544.5 439.5 L1544.5 628.0 L1541.5 628.0 L1541.5 437.0 L1577.0 437.0 L1505.0 268.0 Z" fill="url(#ae3)"/><path d="M1505.0 268.0 L1577.0 437.0 L1541.5 437.0 L1541.5 628.0 L1479.5 628.0 L1479.5 432.5 L1447.0 432.5 Z" fill="url(#ag3)"/>
<g stroke="#4a4f5c" stroke-width="1.3" fill="none">
<path d="M1677.3 396.3 L1631 553"/><path d="M975 812 L926.3 996.6"/><path d="M1575 847 L1704 1002.7"/>
</g>
<circle cx="1631" cy="553" r="3.6" fill="#0e3f97"/><circle cx="1575" cy="847" r="3.4" fill="#2a63c6"/>
<filter id="d1" x="-3%" y="-6%" width="106%" height="112%"><feMorphology operator="dilate" radius="4.14 0.00"/></filter>
<text transform="translate(104.19 300.00) scale(0.5561 1)" font-size="165.7" font-weight="700" fill="#fff" filter="url(#d1)">THE SCIENCE BEHIND</text>
<filter id="d2" x="-3%" y="-6%" width="106%" height="112%"><feMorphology operator="dilate" radius="3.62 0.00"/></filter>
<text transform="translate(118.42 425.30) scale(0.5531 1)" font-size="125.4" font-weight="700" fill="#fff" filter="url(#d2)">FASTER FAT BURNING</text>
<filter id="d3" x="-3%" y="-6%" width="106%" height="112%"><feMorphology operator="dilate" radius="1.57 0.30"/></filter>
<text transform="translate(117.64 746.90) scale(0.5748 1)" font-size="54.2" font-weight="700" fill="#fff" filter="url(#d3)">BURN UP TO</text>
<filter id="d4" x="-3%" y="-6%" width="106%" height="112%"><feMorphology operator="dilate" radius="4.48 1.00"/></filter>
<text transform="translate(116.61 945.50) scale(0.5799 1)" font-size="258.0" font-weight="700" fill="#fff" filter="url(#d4)" letter-spacing="18.97">3X</text>
<text transform="translate(330.51 887.00) scale(0.6139 1)" font-size="49.4" font-weight="400" fill="#fff">MORE CALORIES</text>
<text transform="translate(330.54 944.90) scale(0.6043 1)" font-size="49.6" font-weight="400" fill="#fff">DURING WORKOUTS.</text>
<text x="583.3" y="876" font-size="46" font-weight="700" fill="#fff">*</text>
<text transform="translate(114.6 501.5)" font-size="32" fill="#fff" textLength="649" lengthAdjust="spacingAndGlyphs">Our <tspan font-weight="700">Neoprene Heat-Trap Technology</tspan></text>
<text transform="translate(115.2 543.7)" font-size="32" fill="#fff" textLength="540" lengthAdjust="spacingAndGlyphs">increases sweat &amp; calorie burn.</text>
<text x="1608.5" y="379.9" font-size="29.5" fill="#15469d" stroke="#15469d" stroke-width="0.50" font-weight="400" textLength="165.9" lengthAdjust="spacingAndGlyphs">Outer Layer</text>
<text x="976.0" y="556.7" font-size="29.5" fill="#ffffff" stroke="#ffffff" stroke-width="0.50" font-weight="400" textLength="159.0" lengthAdjust="spacingAndGlyphs">Breathable</text>
<text x="752.8" y="1033.7" font-size="29.5" fill="#15469d" stroke="#15469d" stroke-width="0.50" font-weight="400" textLength="256.0" lengthAdjust="spacingAndGlyphs">Connecting Layer</text>
<text x="1540.8" y="1037.9" font-size="29.5" fill="#15469d" stroke="#15469d" stroke-width="0.50" font-weight="400" textLength="158.4" lengthAdjust="spacingAndGlyphs">Inner Layer</text>
<text x="1193.3" y="937.3" font-size="28.5" fill="#c8392b" stroke="#c8392b" stroke-width="0.50" font-weight="400" textLength="141.4" lengthAdjust="spacingAndGlyphs">Heat Trap</text>
</svg>
</body></html>
